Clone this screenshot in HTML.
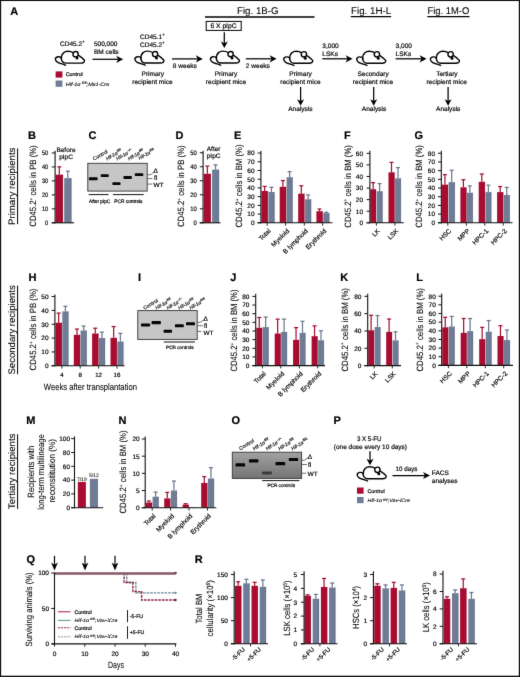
<!DOCTYPE html>
<html lang="en"><head><meta charset="utf-8"><title>Figure 1</title>
<style>html,body{margin:0;padding:0;background:#fff}svg{display:block}</style></head>
<body>
<svg width="520" height="677" viewBox="0 0 520 677" font-family='"Liberation Sans", Arial, Helvetica, sans-serif' text-rendering="geometricPrecision">
<defs><filter id="soft" x="0" y="0" width="520" height="677" filterUnits="userSpaceOnUse" color-interpolation-filters="sRGB"><feConvolveMatrix order="3" kernelMatrix="0.0064 0.0672 0.0064 0.0672 0.7056 0.0672 0.0064 0.0672 0.0064" edgeMode="duplicate" preserveAlpha="false"/></filter></defs>
<g filter="url(#soft)">
<rect x="0" y="0" width="520" height="677" fill="#fff"/>
<text transform="translate(10.30,15.40)" font-size="11" font-weight="bold" stroke="#000" stroke-width="0.18">A</text>
<text transform="translate(72.30,45.80)" font-size="6.55" text-anchor="middle" stroke="#000" stroke-width="0.18">CD45.2<tspan font-size="4.2" dy="-2.5">+</tspan></text>
<g transform="translate(55.00,50.60) scale(1)" fill="none" stroke="#000" stroke-width="1.4" stroke-linecap="round" stroke-linejoin="round">
<path d="M6.4 8.4 C6.3 5.5 7.2 3.3 8.6 2.1 C10 0.9 11.3 0.6 12.6 0.6 C14.5 0.6 16.8 1 18.5 2.2"/>
<path d="M23.2 4.6 C25.5 6 27.8 7.8 29.4 9.7 C29.6 10.8 29.2 11.6 28.4 12 C27.7 12.4 26.8 12.5 26 12.5 L10.6 12.5 C8.8 12.5 7.9 11.8 7.3 10.8 C6.8 10 6.5 9.2 6.4 8.4"/>
<path d="M6.4 7.3 C5.3 6.4 4 6 2.9 6.2 C1.3 6.5 0.3 7.5 0.4 8.8 C0.5 10 1.3 10.9 2.4 11.6 C3.5 12.3 4.9 12.7 6.2 13.1 C7.8 13.6 9.3 14.1 10.6 14.7"/>
<circle cx="20.6" cy="3.6" r="2.65" fill="#fff"/>
<circle cx="22.0" cy="7.5" r="1.5" fill="#000" stroke="none"/>
</g>
<text transform="translate(93.90,45.80) scale(0.9970,1)" font-size="6.55" stroke="#000" stroke-width="0.18">500,000</text>
<text transform="translate(93.90,53.80)" font-size="6.55" stroke="#000" stroke-width="0.18">BM cells</text>
<line x1="92.50" y1="59.30" x2="119.00" y2="59.30" stroke="#000" stroke-width="1.25"/>
<path d="M123.20 59.30 L116.20 55.70 L118.16 59.30 L116.20 62.90 Z" fill="#000"/>
<rect x="55.60" y="71.40" width="6.80" height="6.20" fill="#A90C30"/>
<rect x="55.60" y="80.50" width="6.80" height="6.30" fill="#6F7C95"/>
<text transform="translate(65.70,76.40)" font-size="5.3" stroke="#000" stroke-width="0.2">Control</text>
<text transform="translate(65.70,86.00) scale(1.1002,1)" font-size="5" font-style="italic" stroke="#000" stroke-width="0.1">Hif-1α<tspan font-size="3.4" dy="-1.9" dx="0.3"> fl/fl</tspan><tspan dy="1.9">;Mx1-Cre</tspan></text>
<text transform="translate(140.00,38.60)" font-size="6.55" stroke="#000" stroke-width="0.18">CD45.1<tspan font-size="4.2" dy="-2.5">+</tspan></text>
<text transform="translate(140.00,46.60)" font-size="6.55" stroke="#000" stroke-width="0.18">CD45.2<tspan font-size="4.2" dy="-2.5">+</tspan></text>
<g transform="translate(134.50,50.50) scale(1)" fill="none" stroke="#000" stroke-width="1.4" stroke-linecap="round" stroke-linejoin="round">
<path d="M6.4 8.4 C6.3 5.5 7.2 3.3 8.6 2.1 C10 0.9 11.3 0.6 12.6 0.6 C14.5 0.6 16.8 1 18.5 2.2"/>
<path d="M23.2 4.6 C25.5 6 27.8 7.8 29.4 9.7 C29.6 10.8 29.2 11.6 28.4 12 C27.7 12.4 26.8 12.5 26 12.5 L10.6 12.5 C8.8 12.5 7.9 11.8 7.3 10.8 C6.8 10 6.5 9.2 6.4 8.4"/>
<path d="M6.4 7.3 C5.3 6.4 4 6 2.9 6.2 C1.3 6.5 0.3 7.5 0.4 8.8 C0.5 10 1.3 10.9 2.4 11.6 C3.5 12.3 4.9 12.7 6.2 13.1 C7.8 13.6 9.3 14.1 10.6 14.7"/>
<circle cx="20.6" cy="3.6" r="2.65" fill="#fff"/>
<circle cx="22.0" cy="7.5" r="1.5" fill="#000" stroke="none"/>
</g>
<text transform="translate(152.80,76.20)" font-size="6.55" text-anchor="middle" stroke="#000" stroke-width="0.18">Primary</text>
<text transform="translate(152.40,83.80)" font-size="6.55" text-anchor="middle" stroke="#000" stroke-width="0.18">recipient mice</text>
<line x1="172.00" y1="58.90" x2="198.60" y2="58.90" stroke="#000" stroke-width="1.25"/>
<path d="M202.80 58.90 L195.80 55.30 L197.76 58.90 L195.80 62.50 Z" fill="#000"/>
<text transform="translate(172.80,68.00)" font-size="6.55" stroke="#000" stroke-width="0.18">8 weeks</text>
<text transform="translate(237.00,14.30) scale(0.9923,1)" font-size="9.8" stroke="#000" stroke-width="0.08">Fig. 1B-G</text>
<line x1="205.00" y1="17.00" x2="314.50" y2="17.00" stroke="#000" stroke-width="1.4"/>
<rect x="206.20" y="21.40" width="35.00" height="9.00" fill="#fff" stroke="#000" stroke-width="1"/>
<text transform="translate(223.50,28.10)" font-size="6.7" text-anchor="middle" stroke="#000" stroke-width="0.18">6 X pIpC</text>
<line x1="224.30" y1="32.30" x2="224.30" y2="44.04" stroke="#000" stroke-width="1.25"/>
<path d="M224.30 48.00 L220.80 41.40 L224.30 43.25 L227.80 41.40 Z" fill="#000"/>
<g transform="translate(210.00,50.50) scale(1)" fill="none" stroke="#000" stroke-width="1.4" stroke-linecap="round" stroke-linejoin="round">
<path d="M6.4 8.4 C6.3 5.5 7.2 3.3 8.6 2.1 C10 0.9 11.3 0.6 12.6 0.6 C14.5 0.6 16.8 1 18.5 2.2"/>
<path d="M23.2 4.6 C25.5 6 27.8 7.8 29.4 9.7 C29.6 10.8 29.2 11.6 28.4 12 C27.7 12.4 26.8 12.5 26 12.5 L10.6 12.5 C8.8 12.5 7.9 11.8 7.3 10.8 C6.8 10 6.5 9.2 6.4 8.4"/>
<path d="M6.4 7.3 C5.3 6.4 4 6 2.9 6.2 C1.3 6.5 0.3 7.5 0.4 8.8 C0.5 10 1.3 10.9 2.4 11.6 C3.5 12.3 4.9 12.7 6.2 13.1 C7.8 13.6 9.3 14.1 10.6 14.7"/>
<circle cx="20.6" cy="3.6" r="2.65" fill="#fff"/>
<circle cx="22.0" cy="7.5" r="1.5" fill="#000" stroke="none"/>
</g>
<text transform="translate(226.00,76.20)" font-size="6.55" text-anchor="middle" stroke="#000" stroke-width="0.18">Primary</text>
<text transform="translate(226.00,83.80)" font-size="6.55" text-anchor="middle" stroke="#000" stroke-width="0.18">recipient mice</text>
<line x1="245.80" y1="58.80" x2="272.40" y2="58.80" stroke="#000" stroke-width="1.25"/>
<path d="M276.60 58.80 L269.60 55.20 L271.56 58.80 L269.60 62.40 Z" fill="#000"/>
<text transform="translate(245.80,68.00)" font-size="6.55" stroke="#000" stroke-width="0.18">2 weeks</text>
<g transform="translate(283.30,50.70) scale(1)" fill="none" stroke="#000" stroke-width="1.4" stroke-linecap="round" stroke-linejoin="round">
<path d="M6.4 8.4 C6.3 5.5 7.2 3.3 8.6 2.1 C10 0.9 11.3 0.6 12.6 0.6 C14.5 0.6 16.8 1 18.5 2.2"/>
<path d="M23.2 4.6 C25.5 6 27.8 7.8 29.4 9.7 C29.6 10.8 29.2 11.6 28.4 12 C27.7 12.4 26.8 12.5 26 12.5 L10.6 12.5 C8.8 12.5 7.9 11.8 7.3 10.8 C6.8 10 6.5 9.2 6.4 8.4"/>
<path d="M6.4 7.3 C5.3 6.4 4 6 2.9 6.2 C1.3 6.5 0.3 7.5 0.4 8.8 C0.5 10 1.3 10.9 2.4 11.6 C3.5 12.3 4.9 12.7 6.2 13.1 C7.8 13.6 9.3 14.1 10.6 14.7"/>
<circle cx="20.6" cy="3.6" r="2.65" fill="#fff"/>
<circle cx="22.0" cy="7.5" r="1.5" fill="#000" stroke="none"/>
</g>
<text transform="translate(300.60,76.20)" font-size="6.55" text-anchor="middle" stroke="#000" stroke-width="0.18">Primary</text>
<text transform="translate(300.40,83.80)" font-size="6.55" text-anchor="middle" stroke="#000" stroke-width="0.18">recipient mice</text>
<line x1="300.60" y1="87.00" x2="300.60" y2="101.84" stroke="#000" stroke-width="1.25"/>
<path d="M300.60 105.80 L297.10 99.20 L300.60 101.05 L304.10 99.20 Z" fill="#000"/>
<text transform="translate(300.40,111.40)" font-size="6.55" text-anchor="middle" stroke="#000" stroke-width="0.18">Analysis</text>
<text transform="translate(351.00,14.00) scale(0.9976,1)" font-size="9.8" stroke="#000" stroke-width="0.08">Fig. 1H-L</text>
<line x1="350.80" y1="16.60" x2="391.20" y2="16.60" stroke="#000" stroke-width="1.1"/>
<text transform="translate(322.30,47.60)" font-size="6.55" stroke="#000" stroke-width="0.18">3,000</text>
<text transform="translate(322.30,55.90)" font-size="6.55" stroke="#000" stroke-width="0.18">LSKs</text>
<line x1="322.30" y1="58.80" x2="348.40" y2="58.80" stroke="#000" stroke-width="1.25"/>
<path d="M352.60 58.80 L345.60 55.20 L347.56 58.80 L345.60 62.40 Z" fill="#000"/>
<g transform="translate(356.30,50.70) scale(1)" fill="none" stroke="#000" stroke-width="1.4" stroke-linecap="round" stroke-linejoin="round">
<path d="M6.4 8.4 C6.3 5.5 7.2 3.3 8.6 2.1 C10 0.9 11.3 0.6 12.6 0.6 C14.5 0.6 16.8 1 18.5 2.2"/>
<path d="M23.2 4.6 C25.5 6 27.8 7.8 29.4 9.7 C29.6 10.8 29.2 11.6 28.4 12 C27.7 12.4 26.8 12.5 26 12.5 L10.6 12.5 C8.8 12.5 7.9 11.8 7.3 10.8 C6.8 10 6.5 9.2 6.4 8.4"/>
<path d="M6.4 7.3 C5.3 6.4 4 6 2.9 6.2 C1.3 6.5 0.3 7.5 0.4 8.8 C0.5 10 1.3 10.9 2.4 11.6 C3.5 12.3 4.9 12.7 6.2 13.1 C7.8 13.6 9.3 14.1 10.6 14.7"/>
<circle cx="20.6" cy="3.6" r="2.65" fill="#fff"/>
<circle cx="22.0" cy="7.5" r="1.5" fill="#000" stroke="none"/>
</g>
<text transform="translate(373.10,76.20)" font-size="6.55" text-anchor="middle" stroke="#000" stroke-width="0.18">Secondary</text>
<text transform="translate(373.00,83.80)" font-size="6.55" text-anchor="middle" stroke="#000" stroke-width="0.18">recipient mice</text>
<line x1="373.70" y1="87.00" x2="373.70" y2="101.84" stroke="#000" stroke-width="1.25"/>
<path d="M373.70 105.80 L370.20 99.20 L373.70 101.05 L377.20 99.20 Z" fill="#000"/>
<text transform="translate(374.00,111.40)" font-size="6.55" text-anchor="middle" stroke="#000" stroke-width="0.18">Analysis</text>
<text transform="translate(427.50,14.00) scale(0.9599,1)" font-size="9.8" stroke="#000" stroke-width="0.08">Fig. 1M-O</text>
<line x1="427.30" y1="16.60" x2="469.50" y2="16.60" stroke="#000" stroke-width="1.1"/>
<text transform="translate(395.60,47.60)" font-size="6.55" stroke="#000" stroke-width="0.18">3,000</text>
<text transform="translate(395.60,55.90)" font-size="6.55" stroke="#000" stroke-width="0.18">LSKs</text>
<line x1="395.60" y1="58.80" x2="422.40" y2="58.80" stroke="#000" stroke-width="1.25"/>
<path d="M426.60 58.80 L419.60 55.20 L421.56 58.80 L419.60 62.40 Z" fill="#000"/>
<g transform="translate(430.00,50.70) scale(1)" fill="none" stroke="#000" stroke-width="1.4" stroke-linecap="round" stroke-linejoin="round">
<path d="M6.4 8.4 C6.3 5.5 7.2 3.3 8.6 2.1 C10 0.9 11.3 0.6 12.6 0.6 C14.5 0.6 16.8 1 18.5 2.2"/>
<path d="M23.2 4.6 C25.5 6 27.8 7.8 29.4 9.7 C29.6 10.8 29.2 11.6 28.4 12 C27.7 12.4 26.8 12.5 26 12.5 L10.6 12.5 C8.8 12.5 7.9 11.8 7.3 10.8 C6.8 10 6.5 9.2 6.4 8.4"/>
<path d="M6.4 7.3 C5.3 6.4 4 6 2.9 6.2 C1.3 6.5 0.3 7.5 0.4 8.8 C0.5 10 1.3 10.9 2.4 11.6 C3.5 12.3 4.9 12.7 6.2 13.1 C7.8 13.6 9.3 14.1 10.6 14.7"/>
<circle cx="20.6" cy="3.6" r="2.65" fill="#fff"/>
<circle cx="22.0" cy="7.5" r="1.5" fill="#000" stroke="none"/>
</g>
<text transform="translate(446.90,76.20)" font-size="6.55" text-anchor="middle" stroke="#000" stroke-width="0.18">Tertiary</text>
<text transform="translate(446.60,83.80)" font-size="6.55" text-anchor="middle" stroke="#000" stroke-width="0.18">recipient mice</text>
<line x1="448.10" y1="87.00" x2="448.10" y2="101.84" stroke="#000" stroke-width="1.25"/>
<path d="M448.10 105.80 L444.60 99.20 L448.10 101.05 L451.60 99.20 Z" fill="#000"/>
<text transform="translate(448.20,111.40)" font-size="6.55" text-anchor="middle" stroke="#000" stroke-width="0.18">Analysis</text>
<text transform="translate(14.90,186.30) rotate(-90) scale(1.0193,1)" font-size="9.5" text-anchor="middle" stroke="#000" stroke-width="0.08">Primary recipients</text>
<line x1="17.60" y1="148.40" x2="17.60" y2="224.20" stroke="#000" stroke-width="1"/>
<text transform="translate(14.90,329.90) rotate(-90) scale(1.0066,1)" font-size="9.5" text-anchor="middle" stroke="#000" stroke-width="0.08">Secondary recipients</text>
<line x1="17.60" y1="285.60" x2="17.60" y2="374.20" stroke="#000" stroke-width="1"/>
<text transform="translate(14.90,471.40) rotate(-90) scale(1.0154,1)" font-size="9.5" text-anchor="middle" stroke="#000" stroke-width="0.08">Tertiary recipients</text>
<line x1="17.60" y1="434.20" x2="17.60" y2="508.90" stroke="#000" stroke-width="1"/>
<text transform="translate(28.00,138.80)" font-size="11" font-weight="bold" stroke="#000" stroke-width="0.18">B</text>
<text transform="translate(36.20,186.00) rotate(-90) scale(0.8487,1)" font-size="9.1" text-anchor="middle" stroke="#000" stroke-width="0.08">CD45.2<tspan font-size="5.642" dy="-3.276">+</tspan><tspan dy="3.276"> cells in PB (%)</tspan></text>
<line x1="59.30" y1="174.60" x2="59.30" y2="166.86" stroke="#A00D2F" stroke-width="1.2"/>
<line x1="57.30" y1="166.86" x2="61.30" y2="166.86" stroke="#A00D2F" stroke-width="1.25"/>
<rect x="55.70" y="174.60" width="7.20" height="48.20" fill="#A90C30"/>
<line x1="62.65" y1="174.60" x2="62.65" y2="222.80" stroke="#8A0A28" stroke-width="0.5"/>
<line x1="67.80" y1="178.10" x2="67.80" y2="171.19" stroke="#68758E" stroke-width="1.2"/>
<line x1="65.80" y1="171.19" x2="69.80" y2="171.19" stroke="#68758E" stroke-width="1.25"/>
<rect x="64.20" y="178.10" width="7.20" height="44.70" fill="#6F7C95"/>
<line x1="71.15" y1="178.10" x2="71.15" y2="222.80" stroke="#5A6480" stroke-width="0.5"/>
<line x1="55.10" y1="150.80" x2="55.10" y2="223.35" stroke="#111" stroke-width="1.1"/>
<line x1="51.70" y1="222.80" x2="74.00" y2="222.80" stroke="#111" stroke-width="1.1"/>
<line x1="51.80" y1="222.80" x2="55.10" y2="222.80" stroke="#111" stroke-width="1"/>
<text transform="translate(48.20,225.14) scale(0.8500,1)" font-size="6.5" text-anchor="end" stroke="#000" stroke-width="0.18">0</text>
<line x1="51.80" y1="208.83" x2="55.10" y2="208.83" stroke="#111" stroke-width="1"/>
<text transform="translate(48.20,211.17) scale(0.8500,1)" font-size="6.5" text-anchor="end" stroke="#000" stroke-width="0.18">10</text>
<line x1="51.80" y1="194.86" x2="55.10" y2="194.86" stroke="#111" stroke-width="1"/>
<text transform="translate(48.20,197.20) scale(0.8500,1)" font-size="6.5" text-anchor="end" stroke="#000" stroke-width="0.18">20</text>
<line x1="51.80" y1="180.89" x2="55.10" y2="180.89" stroke="#111" stroke-width="1"/>
<text transform="translate(48.20,183.23) scale(0.8500,1)" font-size="6.5" text-anchor="end" stroke="#000" stroke-width="0.18">30</text>
<line x1="51.80" y1="166.92" x2="55.10" y2="166.92" stroke="#111" stroke-width="1"/>
<text transform="translate(48.20,169.26) scale(0.8500,1)" font-size="6.5" text-anchor="end" stroke="#000" stroke-width="0.18">40</text>
<line x1="51.80" y1="152.95" x2="55.10" y2="152.95" stroke="#111" stroke-width="1"/>
<text transform="translate(48.20,155.29) scale(0.8500,1)" font-size="6.5" text-anchor="end" stroke="#000" stroke-width="0.18">50</text>
<text transform="translate(66.00,151.60)" font-size="6.5" text-anchor="middle" stroke="#000" stroke-width="0.18">Before</text>
<text transform="translate(66.00,159.00)" font-size="6.5" text-anchor="middle" stroke="#000" stroke-width="0.18">pIpC</text>
<text transform="translate(88.50,138.80)" font-size="11" font-weight="bold" stroke="#000" stroke-width="0.18">C</text>
<rect x="87.80" y="163.30" width="59.40" height="27.80" fill="#C6C6C6" stroke="#333" stroke-width="0.9"/>
<rect x="88.90" y="177.20" width="8.70" height="3.10" rx="0.9" fill="#050505"/>
<rect x="100.70" y="174.20" width="8.10" height="2.80" rx="0.9" fill="#050505"/>
<rect x="112.40" y="182.30" width="8.10" height="2.80" rx="0.9" fill="#050505"/>
<rect x="123.40" y="175.90" width="8.50" height="3.00" rx="0.9" fill="#050505"/>
<rect x="134.80" y="173.20" width="8.50" height="2.90" rx="0.9" fill="#050505"/>
<text transform="translate(94.10,160.60) rotate(-30)" font-size="5" fill="#222" stroke="#222" stroke-width="0.2">Control</text>
<text transform="translate(106.90,160.60) rotate(-30)" font-size="4.8" font-style="italic" fill="#222" stroke="#222" stroke-width="0.2">Hif-1α<tspan font-size="3.264" dy="-1.9" dx="0.5">fl/fl</tspan></text>
<text transform="translate(117.30,160.60) rotate(-30)" font-size="4.8" font-style="italic" fill="#222" stroke="#222" stroke-width="0.2">Hif-1α<tspan font-size="3.264" dy="-1.9" dx="0.5">−/−</tspan></text>
<text transform="translate(129.00,160.60) rotate(-30)" font-size="4.8" font-style="italic" fill="#222" stroke="#222" stroke-width="0.2">Hif-1α<tspan font-size="3.264" dy="-1.9" dx="0.5">fl/fl</tspan></text>
<text transform="translate(139.50,160.00) rotate(-30)" font-size="4.8" font-style="italic" fill="#222" stroke="#222" stroke-width="0.2">Hif-1α<tspan font-size="3.264" dy="-1.9" dx="0.5">fl/Δ</tspan></text>
<path d="M147.5 174.7 L151 174.7 L154.1 171.4" fill="none" stroke="#333" stroke-width="0.7"/>
<line x1="147.50" y1="178.60" x2="152.40" y2="178.60" stroke="#333" stroke-width="0.7"/>
<line x1="147.50" y1="184.10" x2="152.40" y2="184.10" stroke="#333" stroke-width="0.7"/>
<text transform="translate(153.50,172.50)" font-size="6.4" stroke="#000" stroke-width="0.18">Δ</text>
<text transform="translate(154.10,180.40)" font-size="6.4" stroke="#000" stroke-width="0.18">fl</text>
<text transform="translate(153.60,186.80) scale(1.0720,1)" font-size="6" stroke="#000" stroke-width="0.18">WT</text>
<line x1="88.70" y1="194.60" x2="108.50" y2="194.60" stroke="#111" stroke-width="1"/>
<line x1="112.90" y1="194.60" x2="143.70" y2="194.60" stroke="#111" stroke-width="1"/>
<text transform="translate(89.10,203.00) scale(0.9371,1)" font-size="5" stroke="#000" stroke-width="0.2">After pIpC</text>
<text transform="translate(114.30,203.00) scale(0.9575,1)" font-size="5" stroke="#000" stroke-width="0.2">PCR controls</text>
<text transform="translate(175.60,138.80)" font-size="11" font-weight="bold" stroke="#000" stroke-width="0.18">D</text>
<text transform="translate(184.10,186.20) rotate(-90) scale(0.8518,1)" font-size="9.1" text-anchor="middle" stroke="#000" stroke-width="0.08">CD45.2<tspan font-size="5.642" dy="-3.276">+</tspan><tspan dy="3.276"> cells in PB (%)</tspan></text>
<line x1="207.35" y1="173.77" x2="207.35" y2="166.14" stroke="#A00D2F" stroke-width="1.2"/>
<line x1="205.35" y1="166.14" x2="209.35" y2="166.14" stroke="#A00D2F" stroke-width="1.25"/>
<rect x="203.90" y="173.77" width="6.90" height="49.03" fill="#A90C30"/>
<line x1="210.55" y1="173.77" x2="210.55" y2="222.80" stroke="#8A0A28" stroke-width="0.5"/>
<line x1="215.55" y1="169.56" x2="215.55" y2="164.88" stroke="#68758E" stroke-width="1.2"/>
<line x1="213.55" y1="164.88" x2="217.55" y2="164.88" stroke="#68758E" stroke-width="1.25"/>
<rect x="212.10" y="169.56" width="6.90" height="53.24" fill="#6F7C95"/>
<line x1="218.75" y1="169.56" x2="218.75" y2="222.80" stroke="#5A6480" stroke-width="0.5"/>
<line x1="203.10" y1="150.80" x2="203.10" y2="223.35" stroke="#111" stroke-width="1.1"/>
<line x1="199.70" y1="222.80" x2="220.50" y2="222.80" stroke="#111" stroke-width="1.1"/>
<line x1="199.80" y1="222.80" x2="203.10" y2="222.80" stroke="#111" stroke-width="1"/>
<text transform="translate(196.70,225.14) scale(0.9000,1)" font-size="6.5" text-anchor="end" stroke="#000" stroke-width="0.18">0</text>
<line x1="199.80" y1="208.79" x2="203.10" y2="208.79" stroke="#111" stroke-width="1"/>
<text transform="translate(196.70,211.13) scale(0.9000,1)" font-size="6.5" text-anchor="end" stroke="#000" stroke-width="0.18">10</text>
<line x1="199.80" y1="194.78" x2="203.10" y2="194.78" stroke="#111" stroke-width="1"/>
<text transform="translate(196.70,197.12) scale(0.9000,1)" font-size="6.5" text-anchor="end" stroke="#000" stroke-width="0.18">20</text>
<line x1="199.80" y1="180.77" x2="203.10" y2="180.77" stroke="#111" stroke-width="1"/>
<text transform="translate(196.70,183.11) scale(0.9000,1)" font-size="6.5" text-anchor="end" stroke="#000" stroke-width="0.18">30</text>
<line x1="199.80" y1="166.76" x2="203.10" y2="166.76" stroke="#111" stroke-width="1"/>
<text transform="translate(196.70,169.10) scale(0.9000,1)" font-size="6.5" text-anchor="end" stroke="#000" stroke-width="0.18">40</text>
<line x1="199.80" y1="152.75" x2="203.10" y2="152.75" stroke="#111" stroke-width="1"/>
<text transform="translate(196.70,155.09) scale(0.9000,1)" font-size="6.5" text-anchor="end" stroke="#000" stroke-width="0.18">50</text>
<text transform="translate(213.60,150.80)" font-size="6.5" text-anchor="middle" stroke="#000" stroke-width="0.18">After</text>
<text transform="translate(213.60,158.30)" font-size="6.5" text-anchor="middle" stroke="#000" stroke-width="0.18">pIpC</text>
<text transform="translate(234.00,138.80)" font-size="11" font-weight="bold" stroke="#000" stroke-width="0.18">E</text>
<text transform="translate(242.30,186.00) rotate(-90) scale(0.8529,1)" font-size="9.1" text-anchor="middle" stroke="#000" stroke-width="0.08">CD45.2<tspan font-size="5.642" dy="-3.276">+</tspan><tspan dy="3.276"> cells in BM (%)</tspan></text>
<line x1="264.65" y1="190.97" x2="264.65" y2="186.41" stroke="#A00D2F" stroke-width="1.2"/>
<line x1="262.65" y1="186.41" x2="266.65" y2="186.41" stroke="#A00D2F" stroke-width="1.25"/>
<rect x="261.50" y="190.97" width="6.30" height="31.83" fill="#A90C30"/>
<line x1="267.55" y1="190.97" x2="267.55" y2="222.80" stroke="#8A0A28" stroke-width="0.5"/>
<line x1="271.45" y1="192.02" x2="271.45" y2="187.29" stroke="#68758E" stroke-width="1.2"/>
<line x1="269.45" y1="187.29" x2="273.45" y2="187.29" stroke="#68758E" stroke-width="1.25"/>
<rect x="268.40" y="192.02" width="6.10" height="30.78" fill="#6F7C95"/>
<line x1="274.25" y1="192.02" x2="274.25" y2="222.80" stroke="#5A6480" stroke-width="0.5"/>
<line x1="282.90" y1="186.79" x2="282.90" y2="180.57" stroke="#A00D2F" stroke-width="1.2"/>
<line x1="280.90" y1="180.57" x2="284.90" y2="180.57" stroke="#A00D2F" stroke-width="1.25"/>
<rect x="279.70" y="186.79" width="6.40" height="36.01" fill="#A90C30"/>
<line x1="285.85" y1="186.79" x2="285.85" y2="222.80" stroke="#8A0A28" stroke-width="0.5"/>
<line x1="289.60" y1="177.19" x2="289.60" y2="171.59" stroke="#68758E" stroke-width="1.2"/>
<line x1="287.60" y1="171.59" x2="291.60" y2="171.59" stroke="#68758E" stroke-width="1.25"/>
<rect x="286.60" y="177.19" width="6.00" height="45.61" fill="#6F7C95"/>
<line x1="292.35" y1="177.19" x2="292.35" y2="222.80" stroke="#5A6480" stroke-width="0.5"/>
<line x1="301.30" y1="193.68" x2="301.30" y2="185.80" stroke="#A00D2F" stroke-width="1.2"/>
<line x1="299.30" y1="185.80" x2="303.30" y2="185.80" stroke="#A00D2F" stroke-width="1.25"/>
<rect x="298.20" y="193.68" width="6.20" height="29.12" fill="#A90C30"/>
<line x1="304.15" y1="193.68" x2="304.15" y2="222.80" stroke="#8A0A28" stroke-width="0.5"/>
<line x1="308.10" y1="199.26" x2="308.10" y2="194.96" stroke="#68758E" stroke-width="1.2"/>
<line x1="306.10" y1="194.96" x2="310.10" y2="194.96" stroke="#68758E" stroke-width="1.25"/>
<rect x="305.10" y="199.26" width="6.00" height="23.54" fill="#6F7C95"/>
<line x1="310.85" y1="199.26" x2="310.85" y2="222.80" stroke="#5A6480" stroke-width="0.5"/>
<line x1="319.50" y1="211.20" x2="319.50" y2="209.00" stroke="#A00D2F" stroke-width="1.2"/>
<line x1="317.50" y1="209.00" x2="321.50" y2="209.00" stroke="#A00D2F" stroke-width="1.25"/>
<rect x="316.40" y="211.20" width="6.20" height="11.60" fill="#A90C30"/>
<line x1="322.35" y1="211.20" x2="322.35" y2="222.80" stroke="#8A0A28" stroke-width="0.5"/>
<line x1="326.30" y1="213.12" x2="326.30" y2="212.31" stroke="#68758E" stroke-width="1.2"/>
<line x1="324.30" y1="212.31" x2="328.30" y2="212.31" stroke="#68758E" stroke-width="1.25"/>
<rect x="323.30" y="213.12" width="6.00" height="9.68" fill="#6F7C95"/>
<line x1="329.05" y1="213.12" x2="329.05" y2="222.80" stroke="#5A6480" stroke-width="0.5"/>
<line x1="260.90" y1="151.00" x2="260.90" y2="223.35" stroke="#111" stroke-width="1.1"/>
<line x1="257.50" y1="222.80" x2="332.50" y2="222.80" stroke="#111" stroke-width="1.1"/>
<line x1="257.60" y1="222.80" x2="260.90" y2="222.80" stroke="#111" stroke-width="1"/>
<text transform="translate(254.60,225.14)" font-size="6.5" text-anchor="end" stroke="#000" stroke-width="0.18">0</text>
<line x1="257.60" y1="214.08" x2="260.90" y2="214.08" stroke="#111" stroke-width="1"/>
<text transform="translate(254.60,216.42)" font-size="6.5" text-anchor="end" stroke="#000" stroke-width="0.18">10</text>
<line x1="257.60" y1="205.36" x2="260.90" y2="205.36" stroke="#111" stroke-width="1"/>
<text transform="translate(254.60,207.70)" font-size="6.5" text-anchor="end" stroke="#000" stroke-width="0.18">20</text>
<line x1="257.60" y1="196.64" x2="260.90" y2="196.64" stroke="#111" stroke-width="1"/>
<text transform="translate(254.60,198.98)" font-size="6.5" text-anchor="end" stroke="#000" stroke-width="0.18">30</text>
<line x1="257.60" y1="187.92" x2="260.90" y2="187.92" stroke="#111" stroke-width="1"/>
<text transform="translate(254.60,190.26)" font-size="6.5" text-anchor="end" stroke="#000" stroke-width="0.18">40</text>
<line x1="257.60" y1="179.20" x2="260.90" y2="179.20" stroke="#111" stroke-width="1"/>
<text transform="translate(254.60,181.54)" font-size="6.5" text-anchor="end" stroke="#000" stroke-width="0.18">50</text>
<line x1="257.60" y1="170.48" x2="260.90" y2="170.48" stroke="#111" stroke-width="1"/>
<text transform="translate(254.60,172.82)" font-size="6.5" text-anchor="end" stroke="#000" stroke-width="0.18">60</text>
<line x1="257.60" y1="161.76" x2="260.90" y2="161.76" stroke="#111" stroke-width="1"/>
<text transform="translate(254.60,164.10)" font-size="6.5" text-anchor="end" stroke="#000" stroke-width="0.18">70</text>
<line x1="257.60" y1="153.04" x2="260.90" y2="153.04" stroke="#111" stroke-width="1"/>
<text transform="translate(254.60,155.38)" font-size="6.5" text-anchor="end" stroke="#000" stroke-width="0.18">80</text>
<line x1="267.20" y1="222.80" x2="267.20" y2="225.60" stroke="#111" stroke-width="0.9"/>
<line x1="285.60" y1="222.80" x2="285.60" y2="225.60" stroke="#111" stroke-width="0.9"/>
<line x1="304.30" y1="222.80" x2="304.30" y2="225.60" stroke="#111" stroke-width="0.9"/>
<line x1="322.60" y1="222.80" x2="322.60" y2="225.60" stroke="#111" stroke-width="0.9"/>
<text transform="translate(271.20,231.40) rotate(-45)" font-size="6.5" text-anchor="end" stroke="#000" stroke-width="0.18">Total</text>
<text transform="translate(289.70,231.40) rotate(-45)" font-size="6.5" text-anchor="end" stroke="#000" stroke-width="0.18">Myeloid</text>
<text transform="translate(308.30,231.40) rotate(-45)" font-size="6.5" text-anchor="end" stroke="#000" stroke-width="0.18">B lymphoid</text>
<text transform="translate(326.70,231.40) rotate(-45)" font-size="6.5" text-anchor="end" stroke="#000" stroke-width="0.18">Erythroid</text>
<text transform="translate(344.00,138.80)" font-size="11" font-weight="bold" stroke="#000" stroke-width="0.18">F</text>
<text transform="translate(350.60,186.40) rotate(-90) scale(0.8478,1)" font-size="9.1" text-anchor="middle" stroke="#000" stroke-width="0.08">CD45.2<tspan font-size="5.642" dy="-3.276">+</tspan><tspan dy="3.276"> cells in BM (%)</tspan></text>
<line x1="373.15" y1="189.22" x2="373.15" y2="182.65" stroke="#A00D2F" stroke-width="1.2"/>
<line x1="371.15" y1="182.65" x2="375.15" y2="182.65" stroke="#A00D2F" stroke-width="1.25"/>
<rect x="370.30" y="189.22" width="5.70" height="33.58" fill="#A90C30"/>
<line x1="375.75" y1="189.22" x2="375.75" y2="222.80" stroke="#8A0A28" stroke-width="0.5"/>
<line x1="379.60" y1="191.19" x2="379.60" y2="183.58" stroke="#68758E" stroke-width="1.2"/>
<line x1="377.60" y1="183.58" x2="381.60" y2="183.58" stroke="#68758E" stroke-width="1.25"/>
<rect x="376.70" y="191.19" width="5.80" height="31.61" fill="#6F7C95"/>
<line x1="382.25" y1="191.19" x2="382.25" y2="222.80" stroke="#5A6480" stroke-width="0.5"/>
<line x1="391.50" y1="172.31" x2="391.50" y2="162.39" stroke="#A00D2F" stroke-width="1.2"/>
<line x1="389.50" y1="162.39" x2="393.50" y2="162.39" stroke="#A00D2F" stroke-width="1.25"/>
<rect x="388.50" y="172.31" width="6.00" height="50.49" fill="#A90C30"/>
<line x1="394.25" y1="172.31" x2="394.25" y2="222.80" stroke="#8A0A28" stroke-width="0.5"/>
<line x1="398.00" y1="178.33" x2="398.00" y2="167.60" stroke="#68758E" stroke-width="1.2"/>
<line x1="396.00" y1="167.60" x2="400.00" y2="167.60" stroke="#68758E" stroke-width="1.25"/>
<rect x="395.10" y="178.33" width="5.80" height="44.47" fill="#6F7C95"/>
<line x1="400.65" y1="178.33" x2="400.65" y2="222.80" stroke="#5A6480" stroke-width="0.5"/>
<line x1="369.90" y1="150.80" x2="369.90" y2="223.35" stroke="#111" stroke-width="1.1"/>
<line x1="366.50" y1="222.80" x2="403.70" y2="222.80" stroke="#111" stroke-width="1.1"/>
<line x1="366.60" y1="222.80" x2="369.90" y2="222.80" stroke="#111" stroke-width="1"/>
<text transform="translate(363.00,225.14)" font-size="6.5" text-anchor="end" stroke="#000" stroke-width="0.18">0</text>
<line x1="366.60" y1="211.22" x2="369.90" y2="211.22" stroke="#111" stroke-width="1"/>
<text transform="translate(363.00,213.56)" font-size="6.5" text-anchor="end" stroke="#000" stroke-width="0.18">10</text>
<line x1="366.60" y1="199.64" x2="369.90" y2="199.64" stroke="#111" stroke-width="1"/>
<text transform="translate(363.00,201.98)" font-size="6.5" text-anchor="end" stroke="#000" stroke-width="0.18">20</text>
<line x1="366.60" y1="188.06" x2="369.90" y2="188.06" stroke="#111" stroke-width="1"/>
<text transform="translate(363.00,190.40)" font-size="6.5" text-anchor="end" stroke="#000" stroke-width="0.18">30</text>
<line x1="366.60" y1="176.48" x2="369.90" y2="176.48" stroke="#111" stroke-width="1"/>
<text transform="translate(363.00,178.82)" font-size="6.5" text-anchor="end" stroke="#000" stroke-width="0.18">40</text>
<line x1="366.60" y1="164.90" x2="369.90" y2="164.90" stroke="#111" stroke-width="1"/>
<text transform="translate(363.00,167.24)" font-size="6.5" text-anchor="end" stroke="#000" stroke-width="0.18">50</text>
<line x1="366.60" y1="153.32" x2="369.90" y2="153.32" stroke="#111" stroke-width="1"/>
<text transform="translate(363.00,155.66)" font-size="6.5" text-anchor="end" stroke="#000" stroke-width="0.18">60</text>
<line x1="376.40" y1="222.80" x2="376.40" y2="225.60" stroke="#111" stroke-width="0.9"/>
<line x1="394.90" y1="222.80" x2="394.90" y2="225.60" stroke="#111" stroke-width="0.9"/>
<text transform="translate(380.30,231.40) rotate(-45)" font-size="6.5" text-anchor="end" stroke="#000" stroke-width="0.18">LK</text>
<text transform="translate(398.90,231.40) rotate(-45)" font-size="6.5" text-anchor="end" stroke="#000" stroke-width="0.18">LSK</text>
<text transform="translate(414.50,138.80)" font-size="11" font-weight="bold" stroke="#000" stroke-width="0.18">G</text>
<text transform="translate(422.40,186.40) rotate(-90) scale(0.8478,1)" font-size="9.1" text-anchor="middle" stroke="#000" stroke-width="0.08">CD45.2<tspan font-size="5.642" dy="-3.276">+</tspan><tspan dy="3.276"> cells in BM (%)</tspan></text>
<line x1="444.95" y1="184.65" x2="444.95" y2="174.64" stroke="#A00D2F" stroke-width="1.2"/>
<line x1="442.95" y1="174.64" x2="446.95" y2="174.64" stroke="#A00D2F" stroke-width="1.25"/>
<rect x="441.90" y="184.65" width="6.10" height="38.15" fill="#A90C30"/>
<line x1="447.75" y1="184.65" x2="447.75" y2="222.80" stroke="#8A0A28" stroke-width="0.5"/>
<line x1="451.70" y1="182.13" x2="451.70" y2="170.20" stroke="#68758E" stroke-width="1.2"/>
<line x1="449.70" y1="170.20" x2="453.70" y2="170.20" stroke="#68758E" stroke-width="1.25"/>
<rect x="448.60" y="182.13" width="6.20" height="40.67" fill="#6F7C95"/>
<line x1="454.55" y1="182.13" x2="454.55" y2="222.80" stroke="#5A6480" stroke-width="0.5"/>
<line x1="463.40" y1="187.34" x2="463.40" y2="179.76" stroke="#A00D2F" stroke-width="1.2"/>
<line x1="461.40" y1="179.76" x2="465.40" y2="179.76" stroke="#A00D2F" stroke-width="1.25"/>
<rect x="460.40" y="187.34" width="6.00" height="35.46" fill="#A90C30"/>
<line x1="466.15" y1="187.34" x2="466.15" y2="222.80" stroke="#8A0A28" stroke-width="0.5"/>
<line x1="469.85" y1="192.73" x2="469.85" y2="185.93" stroke="#68758E" stroke-width="1.2"/>
<line x1="467.85" y1="185.93" x2="471.85" y2="185.93" stroke="#68758E" stroke-width="1.25"/>
<rect x="466.90" y="192.73" width="5.90" height="30.07" fill="#6F7C95"/>
<line x1="472.55" y1="192.73" x2="472.55" y2="222.80" stroke="#5A6480" stroke-width="0.5"/>
<line x1="481.80" y1="181.78" x2="481.80" y2="174.03" stroke="#A00D2F" stroke-width="1.2"/>
<line x1="479.80" y1="174.03" x2="483.80" y2="174.03" stroke="#A00D2F" stroke-width="1.25"/>
<rect x="478.70" y="181.78" width="6.20" height="41.02" fill="#A90C30"/>
<line x1="484.65" y1="181.78" x2="484.65" y2="222.80" stroke="#8A0A28" stroke-width="0.5"/>
<line x1="488.35" y1="192.12" x2="488.35" y2="185.15" stroke="#68758E" stroke-width="1.2"/>
<line x1="486.35" y1="185.15" x2="490.35" y2="185.15" stroke="#68758E" stroke-width="1.25"/>
<rect x="485.40" y="192.12" width="5.90" height="30.68" fill="#6F7C95"/>
<line x1="491.05" y1="192.12" x2="491.05" y2="222.80" stroke="#5A6480" stroke-width="0.5"/>
<line x1="500.15" y1="192.12" x2="500.15" y2="186.54" stroke="#A00D2F" stroke-width="1.2"/>
<line x1="498.15" y1="186.54" x2="502.15" y2="186.54" stroke="#A00D2F" stroke-width="1.25"/>
<rect x="497.10" y="192.12" width="6.10" height="30.68" fill="#A90C30"/>
<line x1="502.95" y1="192.12" x2="502.95" y2="222.80" stroke="#8A0A28" stroke-width="0.5"/>
<line x1="506.75" y1="194.99" x2="506.75" y2="187.41" stroke="#68758E" stroke-width="1.2"/>
<line x1="504.75" y1="187.41" x2="508.75" y2="187.41" stroke="#68758E" stroke-width="1.25"/>
<rect x="503.80" y="194.99" width="5.90" height="27.81" fill="#6F7C95"/>
<line x1="509.45" y1="194.99" x2="509.45" y2="222.80" stroke="#5A6480" stroke-width="0.5"/>
<line x1="441.30" y1="150.80" x2="441.30" y2="223.35" stroke="#111" stroke-width="1.1"/>
<line x1="437.90" y1="222.80" x2="512.50" y2="222.80" stroke="#111" stroke-width="1.1"/>
<line x1="438.00" y1="222.80" x2="441.30" y2="222.80" stroke="#111" stroke-width="1"/>
<text transform="translate(435.00,225.14)" font-size="6.5" text-anchor="end" stroke="#000" stroke-width="0.18">0</text>
<line x1="438.00" y1="214.11" x2="441.30" y2="214.11" stroke="#111" stroke-width="1"/>
<text transform="translate(435.00,216.45)" font-size="6.5" text-anchor="end" stroke="#000" stroke-width="0.18">10</text>
<line x1="438.00" y1="205.42" x2="441.30" y2="205.42" stroke="#111" stroke-width="1"/>
<text transform="translate(435.00,207.76)" font-size="6.5" text-anchor="end" stroke="#000" stroke-width="0.18">20</text>
<line x1="438.00" y1="196.73" x2="441.30" y2="196.73" stroke="#111" stroke-width="1"/>
<text transform="translate(435.00,199.07)" font-size="6.5" text-anchor="end" stroke="#000" stroke-width="0.18">30</text>
<line x1="438.00" y1="188.04" x2="441.30" y2="188.04" stroke="#111" stroke-width="1"/>
<text transform="translate(435.00,190.38)" font-size="6.5" text-anchor="end" stroke="#000" stroke-width="0.18">40</text>
<line x1="438.00" y1="179.35" x2="441.30" y2="179.35" stroke="#111" stroke-width="1"/>
<text transform="translate(435.00,181.69)" font-size="6.5" text-anchor="end" stroke="#000" stroke-width="0.18">50</text>
<line x1="438.00" y1="170.66" x2="441.30" y2="170.66" stroke="#111" stroke-width="1"/>
<text transform="translate(435.00,173.00)" font-size="6.5" text-anchor="end" stroke="#000" stroke-width="0.18">60</text>
<line x1="438.00" y1="161.97" x2="441.30" y2="161.97" stroke="#111" stroke-width="1"/>
<text transform="translate(435.00,164.31)" font-size="6.5" text-anchor="end" stroke="#000" stroke-width="0.18">70</text>
<line x1="438.00" y1="153.28" x2="441.30" y2="153.28" stroke="#111" stroke-width="1"/>
<text transform="translate(435.00,155.62)" font-size="6.5" text-anchor="end" stroke="#000" stroke-width="0.18">80</text>
<line x1="447.80" y1="222.80" x2="447.80" y2="225.60" stroke="#111" stroke-width="0.9"/>
<line x1="466.30" y1="222.80" x2="466.30" y2="225.60" stroke="#111" stroke-width="0.9"/>
<line x1="484.80" y1="222.80" x2="484.80" y2="225.60" stroke="#111" stroke-width="0.9"/>
<line x1="503.20" y1="222.80" x2="503.20" y2="225.60" stroke="#111" stroke-width="0.9"/>
<text transform="translate(451.70,231.40) rotate(-45)" font-size="6.5" text-anchor="end" stroke="#000" stroke-width="0.18">HSC</text>
<text transform="translate(470.20,231.40) rotate(-45)" font-size="6.5" text-anchor="end" stroke="#000" stroke-width="0.18">MPP</text>
<text transform="translate(488.70,231.40) rotate(-45)" font-size="6.5" text-anchor="end" stroke="#000" stroke-width="0.18">HPC-1</text>
<text transform="translate(507.20,231.40) rotate(-45)" font-size="6.5" text-anchor="end" stroke="#000" stroke-width="0.18">HPC-2</text>
<text transform="translate(28.60,281.00)" font-size="11" font-weight="bold" stroke="#000" stroke-width="0.18">H</text>
<text transform="translate(36.30,329.50) rotate(-90) scale(0.8539,1)" font-size="9.1" text-anchor="middle" stroke="#000" stroke-width="0.08">CD45.2<tspan font-size="5.642" dy="-3.276">+</tspan><tspan dy="3.276"> cells in PB (%)</tspan></text>
<line x1="58.65" y1="322.73" x2="58.65" y2="313.12" stroke="#A00D2F" stroke-width="1.2"/>
<line x1="56.65" y1="313.12" x2="60.65" y2="313.12" stroke="#A00D2F" stroke-width="1.25"/>
<rect x="55.50" y="322.73" width="6.30" height="43.07" fill="#A90C30"/>
<line x1="61.55" y1="322.73" x2="61.55" y2="365.80" stroke="#8A0A28" stroke-width="0.5"/>
<line x1="65.35" y1="311.37" x2="65.35" y2="306.33" stroke="#68758E" stroke-width="1.2"/>
<line x1="63.35" y1="306.33" x2="67.35" y2="306.33" stroke="#68758E" stroke-width="1.25"/>
<rect x="62.30" y="311.37" width="6.10" height="54.43" fill="#6F7C95"/>
<line x1="68.15" y1="311.37" x2="68.15" y2="365.80" stroke="#5A6480" stroke-width="0.5"/>
<line x1="76.95" y1="334.78" x2="76.95" y2="329.04" stroke="#A00D2F" stroke-width="1.2"/>
<line x1="74.95" y1="329.04" x2="78.95" y2="329.04" stroke="#A00D2F" stroke-width="1.25"/>
<rect x="73.80" y="334.78" width="6.30" height="31.02" fill="#A90C30"/>
<line x1="79.85" y1="334.78" x2="79.85" y2="365.80" stroke="#8A0A28" stroke-width="0.5"/>
<line x1="83.65" y1="330.48" x2="83.65" y2="326.00" stroke="#68758E" stroke-width="1.2"/>
<line x1="81.65" y1="326.00" x2="85.65" y2="326.00" stroke="#68758E" stroke-width="1.25"/>
<rect x="80.60" y="330.48" width="6.10" height="35.32" fill="#6F7C95"/>
<line x1="86.45" y1="330.48" x2="86.45" y2="365.80" stroke="#5A6480" stroke-width="0.5"/>
<line x1="95.25" y1="333.53" x2="95.25" y2="328.21" stroke="#A00D2F" stroke-width="1.2"/>
<line x1="93.25" y1="328.21" x2="97.25" y2="328.21" stroke="#A00D2F" stroke-width="1.25"/>
<rect x="92.10" y="333.53" width="6.30" height="32.27" fill="#A90C30"/>
<line x1="98.15" y1="333.53" x2="98.15" y2="365.80" stroke="#8A0A28" stroke-width="0.5"/>
<line x1="101.95" y1="338.10" x2="101.95" y2="332.23" stroke="#68758E" stroke-width="1.2"/>
<line x1="99.95" y1="332.23" x2="103.95" y2="332.23" stroke="#68758E" stroke-width="1.25"/>
<rect x="98.90" y="338.10" width="6.10" height="27.70" fill="#6F7C95"/>
<line x1="104.75" y1="338.10" x2="104.75" y2="365.80" stroke="#5A6480" stroke-width="0.5"/>
<line x1="113.65" y1="337.82" x2="113.65" y2="326.55" stroke="#A00D2F" stroke-width="1.2"/>
<line x1="111.65" y1="326.55" x2="115.65" y2="326.55" stroke="#A00D2F" stroke-width="1.25"/>
<rect x="110.50" y="337.82" width="6.30" height="27.98" fill="#A90C30"/>
<line x1="116.55" y1="337.82" x2="116.55" y2="365.80" stroke="#8A0A28" stroke-width="0.5"/>
<line x1="120.35" y1="341.56" x2="120.35" y2="333.34" stroke="#68758E" stroke-width="1.2"/>
<line x1="118.35" y1="333.34" x2="122.35" y2="333.34" stroke="#68758E" stroke-width="1.25"/>
<rect x="117.30" y="341.56" width="6.10" height="24.24" fill="#6F7C95"/>
<line x1="123.15" y1="341.56" x2="123.15" y2="365.80" stroke="#5A6480" stroke-width="0.5"/>
<line x1="54.90" y1="294.50" x2="54.90" y2="366.35" stroke="#111" stroke-width="1.1"/>
<line x1="51.50" y1="365.80" x2="124.50" y2="365.80" stroke="#111" stroke-width="1.1"/>
<line x1="51.60" y1="365.80" x2="54.90" y2="365.80" stroke="#111" stroke-width="1"/>
<text transform="translate(48.60,368.14)" font-size="6.5" text-anchor="end" stroke="#000" stroke-width="0.18">0</text>
<line x1="51.60" y1="351.95" x2="54.90" y2="351.95" stroke="#111" stroke-width="1"/>
<text transform="translate(48.60,354.29)" font-size="6.5" text-anchor="end" stroke="#000" stroke-width="0.18">10</text>
<line x1="51.60" y1="338.10" x2="54.90" y2="338.10" stroke="#111" stroke-width="1"/>
<text transform="translate(48.60,340.44)" font-size="6.5" text-anchor="end" stroke="#000" stroke-width="0.18">20</text>
<line x1="51.60" y1="324.25" x2="54.90" y2="324.25" stroke="#111" stroke-width="1"/>
<text transform="translate(48.60,326.59)" font-size="6.5" text-anchor="end" stroke="#000" stroke-width="0.18">30</text>
<line x1="51.60" y1="310.40" x2="54.90" y2="310.40" stroke="#111" stroke-width="1"/>
<text transform="translate(48.60,312.74)" font-size="6.5" text-anchor="end" stroke="#000" stroke-width="0.18">40</text>
<line x1="51.60" y1="296.55" x2="54.90" y2="296.55" stroke="#111" stroke-width="1"/>
<text transform="translate(48.60,298.89)" font-size="6.5" text-anchor="end" stroke="#000" stroke-width="0.18">50</text>
<line x1="61.90" y1="365.80" x2="61.90" y2="368.60" stroke="#111" stroke-width="0.9"/>
<line x1="80.20" y1="365.80" x2="80.20" y2="368.60" stroke="#111" stroke-width="0.9"/>
<line x1="98.60" y1="365.80" x2="98.60" y2="368.60" stroke="#111" stroke-width="0.9"/>
<line x1="117.00" y1="365.80" x2="117.00" y2="368.60" stroke="#111" stroke-width="0.9"/>
<text transform="translate(61.90,377.00)" font-size="6.2" text-anchor="middle" stroke="#000" stroke-width="0.18">4</text>
<text transform="translate(80.20,377.00)" font-size="6.2" text-anchor="middle" stroke="#000" stroke-width="0.18">8</text>
<text transform="translate(98.60,377.00)" font-size="6.2" text-anchor="middle" stroke="#000" stroke-width="0.18">12</text>
<text transform="translate(117.00,377.00)" font-size="6.2" text-anchor="middle" stroke="#000" stroke-width="0.18">16</text>
<text transform="translate(43.80,390.30) scale(0.8346,1)" font-size="9.2" stroke="#000" stroke-width="0.08">Weeks after transplantation</text>
<text transform="translate(138.00,281.20)" font-size="11" font-weight="bold" stroke="#000" stroke-width="0.18">I</text>
<rect x="137.80" y="310.60" width="59.40" height="28.80" fill="#C6C6C6" stroke="#333" stroke-width="0.9"/>
<rect x="141.00" y="323.40" width="9.10" height="3.10" rx="0.9" fill="#050505"/>
<rect x="151.50" y="321.10" width="9.40" height="3.10" rx="0.9" fill="#050505"/>
<rect x="163.50" y="329.80" width="8.60" height="2.90" rx="0.9" fill="#050505"/>
<rect x="174.90" y="324.20" width="8.90" height="3.10" rx="0.9" fill="#050505"/>
<rect x="186.00" y="322.20" width="9.00" height="3.10" rx="0.9" fill="#050505"/>
<text transform="translate(144.40,309.70) rotate(-30)" font-size="5" fill="#222" stroke="#222" stroke-width="0.2">Control</text>
<text transform="translate(156.60,309.70) rotate(-30)" font-size="4.8" font-style="italic" fill="#222" stroke="#222" stroke-width="0.2">Hif-1α<tspan font-size="3.264" dy="-1.9" dx="0.5">fl/fl</tspan></text>
<text transform="translate(167.70,309.70) rotate(-30)" font-size="4.8" font-style="italic" fill="#222" stroke="#222" stroke-width="0.2">Hif-1α<tspan font-size="3.264" dy="-1.9" dx="0.5">−/−</tspan></text>
<text transform="translate(179.30,309.70) rotate(-30)" font-size="4.8" font-style="italic" fill="#222" stroke="#222" stroke-width="0.2">Hif-1α<tspan font-size="3.264" dy="-1.9" dx="0.5">fl/fl</tspan></text>
<text transform="translate(190.40,309.70) rotate(-30)" font-size="4.8" font-style="italic" fill="#222" stroke="#222" stroke-width="0.2">Hif-1α<tspan font-size="3.264" dy="-1.9" dx="0.5">fl/Δ</tspan></text>
<path d="M197.5 322.3 L200.4 322.3 L203.8 319.7" fill="none" stroke="#333" stroke-width="0.7"/>
<line x1="197.50" y1="325.70" x2="203.00" y2="325.70" stroke="#333" stroke-width="0.7"/>
<line x1="197.50" y1="331.40" x2="201.50" y2="331.40" stroke="#333" stroke-width="0.7"/>
<text transform="translate(203.40,320.70)" font-size="6.4" stroke="#000" stroke-width="0.18">Δ</text>
<text transform="translate(203.90,328.00)" font-size="6.4" stroke="#000" stroke-width="0.18">fl</text>
<text transform="translate(203.40,334.90) scale(1.0390,1)" font-size="6.2" stroke="#000" stroke-width="0.18">WT</text>
<line x1="163.70" y1="342.00" x2="194.90" y2="342.00" stroke="#333" stroke-width="1.2"/>
<text transform="translate(166.00,349.20) scale(0.9800,1)" font-size="4.8" stroke="#000" stroke-width="0.2">PCR controls</text>
<text transform="translate(230.30,280.80)" font-size="11" font-weight="bold" stroke="#000" stroke-width="0.18">J</text>
<text transform="translate(237.20,330.50) rotate(-90) scale(0.8426,1)" font-size="9.1" text-anchor="middle" stroke="#000" stroke-width="0.08">CD45.2<tspan font-size="5.642" dy="-3.276">+</tspan><tspan dy="3.276"> cells in BM (%)</tspan></text>
<line x1="259.25" y1="327.80" x2="259.25" y2="317.49" stroke="#A00D2F" stroke-width="1.2"/>
<line x1="257.25" y1="317.49" x2="261.25" y2="317.49" stroke="#A00D2F" stroke-width="1.25"/>
<rect x="256.30" y="327.80" width="5.90" height="37.80" fill="#A90C30"/>
<line x1="261.95" y1="327.80" x2="261.95" y2="365.60" stroke="#8A0A28" stroke-width="0.5"/>
<line x1="265.70" y1="327.11" x2="265.70" y2="317.05" stroke="#68758E" stroke-width="1.2"/>
<line x1="263.70" y1="317.05" x2="267.70" y2="317.05" stroke="#68758E" stroke-width="1.25"/>
<rect x="262.80" y="327.11" width="5.80" height="38.49" fill="#6F7C95"/>
<line x1="268.35" y1="327.11" x2="268.35" y2="365.60" stroke="#5A6480" stroke-width="0.5"/>
<line x1="277.65" y1="333.51" x2="277.65" y2="319.13" stroke="#A00D2F" stroke-width="1.2"/>
<line x1="275.65" y1="319.13" x2="279.65" y2="319.13" stroke="#A00D2F" stroke-width="1.25"/>
<rect x="274.70" y="333.51" width="5.90" height="32.09" fill="#A90C30"/>
<line x1="280.35" y1="333.51" x2="280.35" y2="365.60" stroke="#8A0A28" stroke-width="0.5"/>
<line x1="284.10" y1="331.95" x2="284.10" y2="319.13" stroke="#68758E" stroke-width="1.2"/>
<line x1="282.10" y1="319.13" x2="286.10" y2="319.13" stroke="#68758E" stroke-width="1.25"/>
<rect x="281.20" y="331.95" width="5.80" height="33.65" fill="#6F7C95"/>
<line x1="286.75" y1="331.95" x2="286.75" y2="365.60" stroke="#5A6480" stroke-width="0.5"/>
<line x1="296.05" y1="339.82" x2="296.05" y2="327.61" stroke="#A00D2F" stroke-width="1.2"/>
<line x1="294.05" y1="327.61" x2="298.05" y2="327.61" stroke="#A00D2F" stroke-width="1.25"/>
<rect x="293.10" y="339.82" width="5.90" height="25.78" fill="#A90C30"/>
<line x1="298.75" y1="339.82" x2="298.75" y2="365.60" stroke="#8A0A28" stroke-width="0.5"/>
<line x1="302.50" y1="332.82" x2="302.50" y2="321.29" stroke="#68758E" stroke-width="1.2"/>
<line x1="300.50" y1="321.29" x2="304.50" y2="321.29" stroke="#68758E" stroke-width="1.25"/>
<rect x="299.60" y="332.82" width="5.80" height="32.78" fill="#6F7C95"/>
<line x1="305.15" y1="332.82" x2="305.15" y2="365.60" stroke="#5A6480" stroke-width="0.5"/>
<line x1="314.55" y1="336.19" x2="314.55" y2="325.88" stroke="#A00D2F" stroke-width="1.2"/>
<line x1="312.55" y1="325.88" x2="316.55" y2="325.88" stroke="#A00D2F" stroke-width="1.25"/>
<rect x="311.60" y="336.19" width="5.90" height="29.41" fill="#A90C30"/>
<line x1="317.25" y1="336.19" x2="317.25" y2="365.60" stroke="#8A0A28" stroke-width="0.5"/>
<line x1="321.00" y1="340.26" x2="321.00" y2="330.81" stroke="#68758E" stroke-width="1.2"/>
<line x1="319.00" y1="330.81" x2="323.00" y2="330.81" stroke="#68758E" stroke-width="1.25"/>
<rect x="318.10" y="340.26" width="5.80" height="25.34" fill="#6F7C95"/>
<line x1="323.65" y1="340.26" x2="323.65" y2="365.60" stroke="#5A6480" stroke-width="0.5"/>
<line x1="255.70" y1="293.70" x2="255.70" y2="366.15" stroke="#111" stroke-width="1.1"/>
<line x1="252.30" y1="365.60" x2="325.00" y2="365.60" stroke="#111" stroke-width="1.1"/>
<line x1="252.40" y1="365.60" x2="255.70" y2="365.60" stroke="#111" stroke-width="1"/>
<text transform="translate(249.40,367.94)" font-size="6.5" text-anchor="end" stroke="#000" stroke-width="0.18">0</text>
<line x1="252.40" y1="356.95" x2="255.70" y2="356.95" stroke="#111" stroke-width="1"/>
<text transform="translate(249.40,359.29)" font-size="6.5" text-anchor="end" stroke="#000" stroke-width="0.18">10</text>
<line x1="252.40" y1="348.30" x2="255.70" y2="348.30" stroke="#111" stroke-width="1"/>
<text transform="translate(249.40,350.64)" font-size="6.5" text-anchor="end" stroke="#000" stroke-width="0.18">20</text>
<line x1="252.40" y1="339.65" x2="255.70" y2="339.65" stroke="#111" stroke-width="1"/>
<text transform="translate(249.40,341.99)" font-size="6.5" text-anchor="end" stroke="#000" stroke-width="0.18">30</text>
<line x1="252.40" y1="331.00" x2="255.70" y2="331.00" stroke="#111" stroke-width="1"/>
<text transform="translate(249.40,333.34)" font-size="6.5" text-anchor="end" stroke="#000" stroke-width="0.18">40</text>
<line x1="252.40" y1="322.35" x2="255.70" y2="322.35" stroke="#111" stroke-width="1"/>
<text transform="translate(249.40,324.69)" font-size="6.5" text-anchor="end" stroke="#000" stroke-width="0.18">50</text>
<line x1="252.40" y1="313.70" x2="255.70" y2="313.70" stroke="#111" stroke-width="1"/>
<text transform="translate(249.40,316.04)" font-size="6.5" text-anchor="end" stroke="#000" stroke-width="0.18">60</text>
<line x1="252.40" y1="305.05" x2="255.70" y2="305.05" stroke="#111" stroke-width="1"/>
<text transform="translate(249.40,307.39)" font-size="6.5" text-anchor="end" stroke="#000" stroke-width="0.18">70</text>
<line x1="252.40" y1="296.40" x2="255.70" y2="296.40" stroke="#111" stroke-width="1"/>
<text transform="translate(249.40,298.74)" font-size="6.5" text-anchor="end" stroke="#000" stroke-width="0.18">80</text>
<line x1="262.40" y1="365.60" x2="262.40" y2="368.40" stroke="#111" stroke-width="0.9"/>
<line x1="280.80" y1="365.60" x2="280.80" y2="368.40" stroke="#111" stroke-width="0.9"/>
<line x1="299.30" y1="365.60" x2="299.30" y2="368.40" stroke="#111" stroke-width="0.9"/>
<line x1="317.70" y1="365.60" x2="317.70" y2="368.40" stroke="#111" stroke-width="0.9"/>
<text transform="translate(266.30,374.20) rotate(-45)" font-size="6.5" text-anchor="end" stroke="#000" stroke-width="0.18">Total</text>
<text transform="translate(284.70,374.20) rotate(-45)" font-size="6.5" text-anchor="end" stroke="#000" stroke-width="0.18">Myeloid</text>
<text transform="translate(303.20,374.20) rotate(-45)" font-size="6.5" text-anchor="end" stroke="#000" stroke-width="0.18">B lymphoid</text>
<text transform="translate(321.70,374.20) rotate(-45)" font-size="6.5" text-anchor="end" stroke="#000" stroke-width="0.18">Erythroid</text>
<text transform="translate(340.30,281.00)" font-size="11" font-weight="bold" stroke="#000" stroke-width="0.18">K</text>
<text transform="translate(347.70,329.80) rotate(-90) scale(0.8581,1)" font-size="9.1" text-anchor="middle" stroke="#000" stroke-width="0.08">CD45.2<tspan font-size="5.642" dy="-3.276">+</tspan><tspan dy="3.276"> cells in BM (%)</tspan></text>
<line x1="371.10" y1="330.27" x2="371.10" y2="315.27" stroke="#A00D2F" stroke-width="1.2"/>
<line x1="369.10" y1="315.27" x2="373.10" y2="315.27" stroke="#A00D2F" stroke-width="1.25"/>
<rect x="368.20" y="330.27" width="5.80" height="35.33" fill="#A90C30"/>
<line x1="373.75" y1="330.27" x2="373.75" y2="365.60" stroke="#8A0A28" stroke-width="0.5"/>
<line x1="377.50" y1="327.06" x2="377.50" y2="315.53" stroke="#68758E" stroke-width="1.2"/>
<line x1="375.50" y1="315.53" x2="379.50" y2="315.53" stroke="#68758E" stroke-width="1.25"/>
<rect x="374.60" y="327.06" width="5.80" height="38.54" fill="#6F7C95"/>
<line x1="380.15" y1="327.06" x2="380.15" y2="365.60" stroke="#5A6480" stroke-width="0.5"/>
<line x1="389.10" y1="331.91" x2="389.10" y2="319.08" stroke="#A00D2F" stroke-width="1.2"/>
<line x1="387.10" y1="319.08" x2="391.10" y2="319.08" stroke="#A00D2F" stroke-width="1.25"/>
<rect x="386.20" y="331.91" width="5.80" height="33.69" fill="#A90C30"/>
<line x1="391.75" y1="331.91" x2="391.75" y2="365.60" stroke="#8A0A28" stroke-width="0.5"/>
<line x1="395.50" y1="340.40" x2="395.50" y2="331.81" stroke="#68758E" stroke-width="1.2"/>
<line x1="393.50" y1="331.81" x2="397.50" y2="331.81" stroke="#68758E" stroke-width="1.25"/>
<rect x="392.60" y="340.40" width="5.80" height="25.20" fill="#6F7C95"/>
<line x1="398.15" y1="340.40" x2="398.15" y2="365.60" stroke="#5A6480" stroke-width="0.5"/>
<line x1="367.70" y1="293.80" x2="367.70" y2="366.15" stroke="#111" stroke-width="1.1"/>
<line x1="364.30" y1="365.60" x2="401.00" y2="365.60" stroke="#111" stroke-width="1.1"/>
<line x1="364.40" y1="365.60" x2="367.70" y2="365.60" stroke="#111" stroke-width="1"/>
<text transform="translate(361.40,367.94)" font-size="6.5" text-anchor="end" stroke="#000" stroke-width="0.18">0</text>
<line x1="364.40" y1="348.28" x2="367.70" y2="348.28" stroke="#111" stroke-width="1"/>
<text transform="translate(361.40,350.62)" font-size="6.5" text-anchor="end" stroke="#000" stroke-width="0.18">20</text>
<line x1="364.40" y1="330.96" x2="367.70" y2="330.96" stroke="#111" stroke-width="1"/>
<text transform="translate(361.40,333.30)" font-size="6.5" text-anchor="end" stroke="#000" stroke-width="0.18">40</text>
<line x1="364.40" y1="313.64" x2="367.70" y2="313.64" stroke="#111" stroke-width="1"/>
<text transform="translate(361.40,315.98)" font-size="6.5" text-anchor="end" stroke="#000" stroke-width="0.18">60</text>
<line x1="364.40" y1="296.32" x2="367.70" y2="296.32" stroke="#111" stroke-width="1"/>
<text transform="translate(361.40,298.66)" font-size="6.5" text-anchor="end" stroke="#000" stroke-width="0.18">80</text>
<line x1="374.20" y1="365.60" x2="374.20" y2="368.40" stroke="#111" stroke-width="0.9"/>
<line x1="392.30" y1="365.60" x2="392.30" y2="368.40" stroke="#111" stroke-width="0.9"/>
<text transform="translate(378.10,374.20) rotate(-45)" font-size="6.5" text-anchor="end" stroke="#000" stroke-width="0.18">LK</text>
<text transform="translate(396.30,374.20) rotate(-45)" font-size="6.5" text-anchor="end" stroke="#000" stroke-width="0.18">LSK</text>
<text transform="translate(416.20,281.00)" font-size="11" font-weight="bold" stroke="#000" stroke-width="0.18">L</text>
<text transform="translate(422.60,329.80) rotate(-90) scale(0.8581,1)" font-size="9.1" text-anchor="middle" stroke="#000" stroke-width="0.08">CD45.2<tspan font-size="5.642" dy="-3.276">+</tspan><tspan dy="3.276"> cells in BM (%)</tspan></text>
<line x1="445.25" y1="327.34" x2="445.25" y2="317.29" stroke="#A00D2F" stroke-width="1.2"/>
<line x1="443.25" y1="317.29" x2="447.25" y2="317.29" stroke="#A00D2F" stroke-width="1.25"/>
<rect x="442.30" y="327.34" width="5.90" height="38.06" fill="#A90C30"/>
<line x1="447.95" y1="327.34" x2="447.95" y2="365.40" stroke="#8A0A28" stroke-width="0.5"/>
<line x1="451.70" y1="326.47" x2="451.70" y2="316.42" stroke="#68758E" stroke-width="1.2"/>
<line x1="449.70" y1="316.42" x2="453.70" y2="316.42" stroke="#68758E" stroke-width="1.25"/>
<rect x="448.80" y="326.47" width="5.80" height="38.93" fill="#6F7C95"/>
<line x1="454.35" y1="326.47" x2="454.35" y2="365.40" stroke="#5A6480" stroke-width="0.5"/>
<line x1="463.65" y1="332.88" x2="463.65" y2="318.50" stroke="#A00D2F" stroke-width="1.2"/>
<line x1="461.65" y1="318.50" x2="465.65" y2="318.50" stroke="#A00D2F" stroke-width="1.25"/>
<rect x="460.70" y="332.88" width="5.90" height="32.52" fill="#A90C30"/>
<line x1="466.35" y1="332.88" x2="466.35" y2="365.40" stroke="#8A0A28" stroke-width="0.5"/>
<line x1="470.10" y1="331.15" x2="470.10" y2="318.50" stroke="#68758E" stroke-width="1.2"/>
<line x1="468.10" y1="318.50" x2="472.10" y2="318.50" stroke="#68758E" stroke-width="1.25"/>
<rect x="467.20" y="331.15" width="5.80" height="34.25" fill="#6F7C95"/>
<line x1="472.75" y1="331.15" x2="472.75" y2="365.40" stroke="#5A6480" stroke-width="0.5"/>
<line x1="482.15" y1="339.19" x2="482.15" y2="327.41" stroke="#A00D2F" stroke-width="1.2"/>
<line x1="480.15" y1="327.41" x2="484.15" y2="327.41" stroke="#A00D2F" stroke-width="1.25"/>
<rect x="479.20" y="339.19" width="5.90" height="26.21" fill="#A90C30"/>
<line x1="484.85" y1="339.19" x2="484.85" y2="365.40" stroke="#8A0A28" stroke-width="0.5"/>
<line x1="488.60" y1="331.75" x2="488.60" y2="320.57" stroke="#68758E" stroke-width="1.2"/>
<line x1="486.60" y1="320.57" x2="490.60" y2="320.57" stroke="#68758E" stroke-width="1.25"/>
<rect x="485.70" y="331.75" width="5.80" height="33.65" fill="#6F7C95"/>
<line x1="491.25" y1="331.75" x2="491.25" y2="365.40" stroke="#5A6480" stroke-width="0.5"/>
<line x1="500.45" y1="335.99" x2="500.45" y2="325.68" stroke="#A00D2F" stroke-width="1.2"/>
<line x1="498.45" y1="325.68" x2="502.45" y2="325.68" stroke="#A00D2F" stroke-width="1.25"/>
<rect x="497.50" y="335.99" width="5.90" height="29.41" fill="#A90C30"/>
<line x1="503.15" y1="335.99" x2="503.15" y2="365.40" stroke="#8A0A28" stroke-width="0.5"/>
<line x1="506.95" y1="340.06" x2="506.95" y2="330.00" stroke="#68758E" stroke-width="1.2"/>
<line x1="504.95" y1="330.00" x2="508.95" y2="330.00" stroke="#68758E" stroke-width="1.25"/>
<rect x="504.00" y="340.06" width="5.90" height="25.34" fill="#6F7C95"/>
<line x1="509.65" y1="340.06" x2="509.65" y2="365.40" stroke="#5A6480" stroke-width="0.5"/>
<line x1="441.70" y1="293.40" x2="441.70" y2="365.95" stroke="#111" stroke-width="1.1"/>
<line x1="438.30" y1="365.40" x2="513.00" y2="365.40" stroke="#111" stroke-width="1.1"/>
<line x1="438.40" y1="365.40" x2="441.70" y2="365.40" stroke="#111" stroke-width="1"/>
<text transform="translate(435.80,367.74)" font-size="6.5" text-anchor="end" stroke="#000" stroke-width="0.18">0</text>
<line x1="438.40" y1="356.75" x2="441.70" y2="356.75" stroke="#111" stroke-width="1"/>
<text transform="translate(435.80,359.09)" font-size="6.5" text-anchor="end" stroke="#000" stroke-width="0.18">10</text>
<line x1="438.40" y1="348.10" x2="441.70" y2="348.10" stroke="#111" stroke-width="1"/>
<text transform="translate(435.80,350.44)" font-size="6.5" text-anchor="end" stroke="#000" stroke-width="0.18">20</text>
<line x1="438.40" y1="339.45" x2="441.70" y2="339.45" stroke="#111" stroke-width="1"/>
<text transform="translate(435.80,341.79)" font-size="6.5" text-anchor="end" stroke="#000" stroke-width="0.18">30</text>
<line x1="438.40" y1="330.80" x2="441.70" y2="330.80" stroke="#111" stroke-width="1"/>
<text transform="translate(435.80,333.14)" font-size="6.5" text-anchor="end" stroke="#000" stroke-width="0.18">40</text>
<line x1="438.40" y1="322.15" x2="441.70" y2="322.15" stroke="#111" stroke-width="1"/>
<text transform="translate(435.80,324.49)" font-size="6.5" text-anchor="end" stroke="#000" stroke-width="0.18">50</text>
<line x1="438.40" y1="313.50" x2="441.70" y2="313.50" stroke="#111" stroke-width="1"/>
<text transform="translate(435.80,315.84)" font-size="6.5" text-anchor="end" stroke="#000" stroke-width="0.18">60</text>
<line x1="438.40" y1="304.85" x2="441.70" y2="304.85" stroke="#111" stroke-width="1"/>
<text transform="translate(435.80,307.19)" font-size="6.5" text-anchor="end" stroke="#000" stroke-width="0.18">70</text>
<line x1="438.40" y1="296.20" x2="441.70" y2="296.20" stroke="#111" stroke-width="1"/>
<text transform="translate(435.80,298.54)" font-size="6.5" text-anchor="end" stroke="#000" stroke-width="0.18">80</text>
<line x1="448.40" y1="365.40" x2="448.40" y2="368.20" stroke="#111" stroke-width="0.9"/>
<line x1="466.80" y1="365.40" x2="466.80" y2="368.20" stroke="#111" stroke-width="0.9"/>
<line x1="485.30" y1="365.40" x2="485.30" y2="368.20" stroke="#111" stroke-width="0.9"/>
<line x1="503.70" y1="365.40" x2="503.70" y2="368.20" stroke="#111" stroke-width="0.9"/>
<text transform="translate(452.30,374.00) rotate(-45)" font-size="6.5" text-anchor="end" stroke="#000" stroke-width="0.18">HSC</text>
<text transform="translate(470.70,374.00) rotate(-45)" font-size="6.5" text-anchor="end" stroke="#000" stroke-width="0.18">MPP</text>
<text transform="translate(489.20,374.00) rotate(-45)" font-size="6.5" text-anchor="end" stroke="#000" stroke-width="0.18">HPC-1</text>
<text transform="translate(507.70,374.00) rotate(-45)" font-size="6.5" text-anchor="end" stroke="#000" stroke-width="0.18">HPC-2</text>
<text transform="translate(26.20,423.80)" font-size="11" font-weight="bold" stroke="#000" stroke-width="0.18">M</text>
<text transform="translate(33.70,471.70) rotate(-90) scale(0.8591,1)" font-size="9" text-anchor="middle" stroke="#000" stroke-width="0.08">Recipients with</text>
<text transform="translate(44.30,472.00) rotate(-90) scale(0.8549,1)" font-size="9" text-anchor="middle" stroke="#000" stroke-width="0.08">long-term multilineage</text>
<text transform="translate(54.70,470.80) rotate(-90) scale(0.9082,1)" font-size="9" text-anchor="middle" stroke="#000" stroke-width="0.08">reconstitution (%)</text>
<rect x="77.80" y="481.89" width="7.90" height="25.81" fill="#A90C30"/>
<line x1="85.45" y1="481.89" x2="85.45" y2="507.70" stroke="#8A0A28" stroke-width="0.5"/>
<rect x="89.90" y="478.79" width="7.90" height="28.91" fill="#6F7C95"/>
<line x1="97.55" y1="478.79" x2="97.55" y2="507.70" stroke="#5A6480" stroke-width="0.5"/>
<line x1="74.50" y1="436.40" x2="74.50" y2="508.25" stroke="#111" stroke-width="1.1"/>
<line x1="71.10" y1="507.70" x2="103.20" y2="507.70" stroke="#111" stroke-width="1.1"/>
<line x1="71.20" y1="507.70" x2="74.50" y2="507.70" stroke="#111" stroke-width="1"/>
<text transform="translate(70.10,510.04)" font-size="6.5" text-anchor="end" stroke="#000" stroke-width="0.18">0</text>
<line x1="71.20" y1="493.90" x2="74.50" y2="493.90" stroke="#111" stroke-width="1"/>
<text transform="translate(70.10,496.24)" font-size="6.5" text-anchor="end" stroke="#000" stroke-width="0.18">20</text>
<line x1="71.20" y1="480.10" x2="74.50" y2="480.10" stroke="#111" stroke-width="1"/>
<text transform="translate(70.10,482.44)" font-size="6.5" text-anchor="end" stroke="#000" stroke-width="0.18">40</text>
<line x1="71.20" y1="466.30" x2="74.50" y2="466.30" stroke="#111" stroke-width="1"/>
<text transform="translate(70.10,468.64)" font-size="6.5" text-anchor="end" stroke="#000" stroke-width="0.18">60</text>
<line x1="71.20" y1="452.50" x2="74.50" y2="452.50" stroke="#111" stroke-width="1"/>
<text transform="translate(70.10,454.84)" font-size="6.5" text-anchor="end" stroke="#000" stroke-width="0.18">80</text>
<line x1="71.20" y1="438.70" x2="74.50" y2="438.70" stroke="#111" stroke-width="1"/>
<text transform="translate(70.10,441.04)" font-size="6.5" text-anchor="end" stroke="#000" stroke-width="0.18">100</text>
<text transform="translate(81.80,480.80)" font-size="5" text-anchor="middle" stroke="#000" stroke-width="0.05">7/19</text>
<text transform="translate(93.80,477.20)" font-size="5" text-anchor="middle" stroke="#000" stroke-width="0.05">5/12</text>
<text transform="translate(118.60,423.80)" font-size="11" font-weight="bold" stroke="#000" stroke-width="0.18">N</text>
<text transform="translate(126.20,472.00) rotate(-90) scale(0.8529,1)" font-size="9.1" text-anchor="middle" stroke="#000" stroke-width="0.08">CD45.2<tspan font-size="5.642" dy="-3.276">+</tspan><tspan dy="3.276"> cells in BM (%)</tspan></text>
<line x1="148.90" y1="502.55" x2="148.90" y2="500.99" stroke="#A00D2F" stroke-width="1.2"/>
<line x1="146.90" y1="500.99" x2="150.90" y2="500.99" stroke="#A00D2F" stroke-width="1.25"/>
<rect x="145.80" y="502.55" width="6.20" height="5.15" fill="#A90C30"/>
<line x1="151.75" y1="502.55" x2="151.75" y2="507.70" stroke="#8A0A28" stroke-width="0.5"/>
<line x1="155.60" y1="496.71" x2="155.60" y2="492.06" stroke="#68758E" stroke-width="1.2"/>
<line x1="153.60" y1="492.06" x2="157.60" y2="492.06" stroke="#68758E" stroke-width="1.25"/>
<rect x="152.60" y="496.71" width="6.00" height="10.99" fill="#6F7C95"/>
<line x1="158.35" y1="496.71" x2="158.35" y2="507.70" stroke="#5A6480" stroke-width="0.5"/>
<line x1="167.25" y1="498.43" x2="167.25" y2="492.40" stroke="#A00D2F" stroke-width="1.2"/>
<line x1="165.25" y1="492.40" x2="169.25" y2="492.40" stroke="#A00D2F" stroke-width="1.25"/>
<rect x="164.20" y="498.43" width="6.10" height="9.27" fill="#A90C30"/>
<line x1="170.05" y1="498.43" x2="170.05" y2="507.70" stroke="#8A0A28" stroke-width="0.5"/>
<line x1="173.90" y1="490.52" x2="173.90" y2="481.06" stroke="#68758E" stroke-width="1.2"/>
<line x1="171.90" y1="481.06" x2="175.90" y2="481.06" stroke="#68758E" stroke-width="1.25"/>
<rect x="170.90" y="490.52" width="6.00" height="17.18" fill="#6F7C95"/>
<line x1="176.65" y1="490.52" x2="176.65" y2="507.70" stroke="#5A6480" stroke-width="0.5"/>
<line x1="185.65" y1="504.61" x2="185.65" y2="503.73" stroke="#A00D2F" stroke-width="1.2"/>
<line x1="183.65" y1="503.73" x2="187.65" y2="503.73" stroke="#A00D2F" stroke-width="1.25"/>
<rect x="182.60" y="504.61" width="6.10" height="3.09" fill="#A90C30"/>
<line x1="188.45" y1="504.61" x2="188.45" y2="507.70" stroke="#8A0A28" stroke-width="0.5"/>
<rect x="189.30" y="507.29" width="6.00" height="0.41" fill="#6F7C95"/>
<line x1="195.05" y1="507.29" x2="195.05" y2="507.70" stroke="#5A6480" stroke-width="0.5"/>
<line x1="204.25" y1="482.97" x2="204.25" y2="476.60" stroke="#A00D2F" stroke-width="1.2"/>
<line x1="202.25" y1="476.60" x2="206.25" y2="476.60" stroke="#A00D2F" stroke-width="1.25"/>
<rect x="201.20" y="482.97" width="6.10" height="24.73" fill="#A90C30"/>
<line x1="207.05" y1="482.97" x2="207.05" y2="507.70" stroke="#8A0A28" stroke-width="0.5"/>
<line x1="210.95" y1="478.50" x2="210.95" y2="467.67" stroke="#68758E" stroke-width="1.2"/>
<line x1="208.95" y1="467.67" x2="212.95" y2="467.67" stroke="#68758E" stroke-width="1.25"/>
<rect x="207.90" y="478.50" width="6.10" height="29.20" fill="#6F7C95"/>
<line x1="213.75" y1="478.50" x2="213.75" y2="507.70" stroke="#5A6480" stroke-width="0.5"/>
<line x1="145.20" y1="436.40" x2="145.20" y2="508.25" stroke="#111" stroke-width="1.1"/>
<line x1="141.80" y1="507.70" x2="216.30" y2="507.70" stroke="#111" stroke-width="1.1"/>
<line x1="141.90" y1="507.70" x2="145.20" y2="507.70" stroke="#111" stroke-width="1"/>
<text transform="translate(139.70,510.04)" font-size="6.5" text-anchor="end" stroke="#000" stroke-width="0.18">0</text>
<line x1="141.90" y1="490.52" x2="145.20" y2="490.52" stroke="#111" stroke-width="1"/>
<text transform="translate(139.70,492.86)" font-size="6.5" text-anchor="end" stroke="#000" stroke-width="0.18">5</text>
<line x1="141.90" y1="473.35" x2="145.20" y2="473.35" stroke="#111" stroke-width="1"/>
<text transform="translate(139.70,475.69)" font-size="6.5" text-anchor="end" stroke="#000" stroke-width="0.18">10</text>
<line x1="141.90" y1="456.18" x2="145.20" y2="456.18" stroke="#111" stroke-width="1"/>
<text transform="translate(139.70,458.51)" font-size="6.5" text-anchor="end" stroke="#000" stroke-width="0.18">15</text>
<line x1="141.90" y1="439.00" x2="145.20" y2="439.00" stroke="#111" stroke-width="1"/>
<text transform="translate(139.70,441.34)" font-size="6.5" text-anchor="end" stroke="#000" stroke-width="0.18">20</text>
<line x1="152.20" y1="507.70" x2="152.20" y2="510.50" stroke="#111" stroke-width="0.9"/>
<line x1="170.60" y1="507.70" x2="170.60" y2="510.50" stroke="#111" stroke-width="0.9"/>
<line x1="189.00" y1="507.70" x2="189.00" y2="510.50" stroke="#111" stroke-width="0.9"/>
<line x1="207.50" y1="507.70" x2="207.50" y2="510.50" stroke="#111" stroke-width="0.9"/>
<text transform="translate(156.10,516.40) rotate(-45)" font-size="6.5" text-anchor="end" stroke="#000" stroke-width="0.18">Total</text>
<text transform="translate(174.50,516.40) rotate(-45)" font-size="6.5" text-anchor="end" stroke="#000" stroke-width="0.18">Myeloid</text>
<text transform="translate(192.90,516.40) rotate(-45)" font-size="6.5" text-anchor="end" stroke="#000" stroke-width="0.18">B lymphoid</text>
<text transform="translate(211.40,516.40) rotate(-45)" font-size="6.5" text-anchor="end" stroke="#000" stroke-width="0.18">Erythroid</text>
<text transform="translate(231.60,424.30)" font-size="11" font-weight="bold" stroke="#000" stroke-width="0.18">O</text>
<defs><linearGradient id="gO" x1="0" y1="0" x2="0" y2="1"><stop offset="0" stop-color="#a2a2a2"/><stop offset="1" stop-color="#747474"/></linearGradient></defs>
<rect x="232.30" y="452.20" width="69.30" height="26.20" fill="url(#gO)" stroke="#333" stroke-width="0.9"/>
<rect x="235.50" y="463.20" width="9.60" height="3.40" rx="0.9" fill="#050505"/>
<rect x="249.00" y="459.20" width="9.40" height="3.40" rx="0.9" fill="#050505"/>
<rect x="262.00" y="471.40" width="9.90" height="3.00" rx="0.9" fill="#3a3a3a"/>
<rect x="275.50" y="461.90" width="9.70" height="3.40" rx="0.9" fill="#050505"/>
<rect x="288.80" y="457.90" width="9.40" height="3.20" rx="0.9" fill="#050505"/>
<text transform="translate(240.40,450.60) rotate(-32)" font-size="5.2" fill="#222" stroke="#222" stroke-width="0.2">Control</text>
<text transform="translate(254.10,450.60) rotate(-32)" font-size="5" font-style="italic" fill="#222" stroke="#222" stroke-width="0.2">Hif-1α<tspan font-size="3.4" dy="-1.9" dx="0.5">fl/fl</tspan></text>
<text transform="translate(266.90,450.60) rotate(-32)" font-size="5" font-style="italic" fill="#222" stroke="#222" stroke-width="0.2">Hif-1α<tspan font-size="3.4" dy="-1.9" dx="0.5">−/−</tspan></text>
<text transform="translate(279.50,450.60) rotate(-32)" font-size="5" font-style="italic" fill="#222" stroke="#222" stroke-width="0.2">Hif-1α<tspan font-size="3.4" dy="-1.9" dx="0.5">fl/fl</tspan></text>
<text transform="translate(292.60,450.60) rotate(-32)" font-size="5" font-style="italic" fill="#222" stroke="#222" stroke-width="0.2">Hif-1α<tspan font-size="3.4" dy="-1.9" dx="0.5">fl/Δ</tspan></text>
<path d="M301.6 460.3 L304.4 460.3 L308.2 457.4" fill="none" stroke="#333" stroke-width="0.7"/>
<line x1="301.60" y1="464.50" x2="307.00" y2="464.50" stroke="#333" stroke-width="0.7"/>
<line x1="301.60" y1="473.20" x2="306.10" y2="473.20" stroke="#333" stroke-width="0.7"/>
<text transform="translate(307.70,458.60)" font-size="6.6" stroke="#000" stroke-width="0.18">Δ</text>
<text transform="translate(307.90,466.80)" font-size="6.4" stroke="#000" stroke-width="0.18">fl</text>
<text transform="translate(307.60,475.90) scale(1.0701,1)" font-size="6.2" stroke="#000" stroke-width="0.18">WT</text>
<line x1="262.20" y1="480.60" x2="299.40" y2="480.60" stroke="#111" stroke-width="1"/>
<text transform="translate(267.40,487.20) scale(0.9765,1)" font-size="4.8" stroke="#000" stroke-width="0.2">PCR controls</text>
<text transform="translate(333.60,423.80)" font-size="11" font-weight="bold" stroke="#000" stroke-width="0.18">P</text>
<text transform="translate(369.20,441.00) scale(0.9191,1)" font-size="6.7" text-anchor="middle" stroke="#000" stroke-width="0.18">3 X 5-FU</text>
<text transform="translate(370.40,449.00) scale(0.9978,1)" font-size="6.5" text-anchor="middle" stroke="#000" stroke-width="0.18">(one dose every 10 days)</text>
<line x1="370.00" y1="451.30" x2="370.00" y2="461.34" stroke="#000" stroke-width="1.25"/>
<path d="M370.00 465.30 L366.50 458.70 L370.00 460.55 L373.50 458.70 Z" fill="#000"/>
<g transform="translate(356.80,466.20) scale(1)" fill="none" stroke="#000" stroke-width="1.4" stroke-linecap="round" stroke-linejoin="round">
<path d="M6.4 8.4 C6.3 5.5 7.2 3.3 8.6 2.1 C10 0.9 11.3 0.6 12.6 0.6 C14.5 0.6 16.8 1 18.5 2.2"/>
<path d="M23.2 4.6 C25.5 6 27.8 7.8 29.4 9.7 C29.6 10.8 29.2 11.6 28.4 12 C27.7 12.4 26.8 12.5 26 12.5 L10.6 12.5 C8.8 12.5 7.9 11.8 7.3 10.8 C6.8 10 6.5 9.2 6.4 8.4"/>
<path d="M6.4 7.3 C5.3 6.4 4 6 2.9 6.2 C1.3 6.5 0.3 7.5 0.4 8.8 C0.5 10 1.3 10.9 2.4 11.6 C3.5 12.3 4.9 12.7 6.2 13.1 C7.8 13.6 9.3 14.1 10.6 14.7"/>
<circle cx="20.6" cy="3.6" r="2.65" fill="#fff"/>
<circle cx="22.0" cy="7.5" r="1.5" fill="#000" stroke="none"/>
</g>
<text transform="translate(395.60,471.40) scale(0.9881,1)" font-size="6.3" stroke="#000" stroke-width="0.18">10 days</text>
<line x1="392.50" y1="475.50" x2="425.80" y2="475.50" stroke="#000" stroke-width="1.25"/>
<path d="M430.00 475.50 L423.00 471.90 L424.96 475.50 L423.00 479.10 Z" fill="#000"/>
<text transform="translate(431.80,474.50)" font-size="6.5" stroke="#000" stroke-width="0.18">FACS</text>
<text transform="translate(431.80,482.60)" font-size="6.5" stroke="#000" stroke-width="0.18">analyses</text>
<rect x="357.00" y="487.50" width="6.60" height="6.20" fill="#A90C30"/>
<rect x="357.00" y="497.00" width="6.60" height="6.20" fill="#6F7C95"/>
<text transform="translate(367.50,492.70)" font-size="5.3" stroke="#000" stroke-width="0.2">Control</text>
<text transform="translate(367.50,502.30) scale(1.1282,1)" font-size="4.8" font-style="italic" stroke="#000" stroke-width="0.1">Hif-1α<tspan font-size="3.2" dy="-1.6"> fl/fl</tspan><tspan dy="1.6">;Vav-iCre</tspan></text>
<text transform="translate(26.60,563.00)" font-size="11" font-weight="bold" stroke="#000" stroke-width="0.18">Q</text>
<line x1="54.50" y1="555.80" x2="54.50" y2="565.80" stroke="#000" stroke-width="1.2"/>
<path d="M54.50 570.60 L51.10 562.60 L54.50 564.84 L57.90 562.60 Z" fill="#000"/>
<line x1="85.00" y1="555.80" x2="85.00" y2="565.80" stroke="#000" stroke-width="1.2"/>
<path d="M85.00 570.60 L81.60 562.60 L85.00 564.84 L88.40 562.60 Z" fill="#000"/>
<line x1="115.00" y1="555.80" x2="115.00" y2="565.80" stroke="#000" stroke-width="1.2"/>
<path d="M115.00 570.60 L111.60 562.60 L115.00 564.84 L118.40 562.60 Z" fill="#000"/>
<text transform="translate(32.40,609.40) rotate(-90) scale(0.8415,1)" font-size="9.1" text-anchor="middle" stroke="#000" stroke-width="0.08">Surviving animals (%)</text>
<path d="M126.80 573.00 L126.80 582.57 L135.87 582.57 L135.87 592.85 L175.50 592.85" fill="none" stroke="#668899" stroke-width="1.4" stroke-dasharray="2.6 1.0"/>
<path d="M124.08 573.00 L124.08 582.57 L132.85 582.57 L132.85 591.58 L141.62 591.58 L141.62 599.94 L175.50 599.94" fill="none" stroke="#8F2444" stroke-width="1.4" stroke-dasharray="2.6 1.0"/>
<circle cx="175.50" cy="592.85" r="1.2" fill="#668899"/>
<circle cx="175.50" cy="599.94" r="1.2" fill="#7a1030"/>
<line x1="54.50" y1="573.50" x2="175.50" y2="573.40" stroke="#87586B" stroke-width="2.5"/>
<circle cx="175.50" cy="573.00" r="1.3" fill="#7b3b50"/>
<line x1="54.50" y1="572.50" x2="54.50" y2="644.40" stroke="#111" stroke-width="1.1"/>
<line x1="51.70" y1="643.90" x2="176.40" y2="643.90" stroke="#111" stroke-width="1.1"/>
<line x1="51.20" y1="643.90" x2="54.50" y2="643.90" stroke="#111" stroke-width="1"/>
<text transform="translate(49.00,646.20)" font-size="6.5" text-anchor="end" stroke="#000" stroke-width="0.18">0</text>
<line x1="51.20" y1="608.45" x2="54.50" y2="608.45" stroke="#111" stroke-width="1"/>
<text transform="translate(49.00,610.75)" font-size="6.5" text-anchor="end" stroke="#000" stroke-width="0.18">50</text>
<line x1="51.20" y1="573.00" x2="54.50" y2="573.00" stroke="#111" stroke-width="1"/>
<text transform="translate(49.00,575.30)" font-size="6.5" text-anchor="end" stroke="#000" stroke-width="0.18">100</text>
<line x1="54.50" y1="643.90" x2="54.50" y2="646.70" stroke="#111" stroke-width="0.9"/>
<text transform="translate(54.50,656.20)" font-size="6.5" text-anchor="middle" stroke="#000" stroke-width="0.18">0</text>
<line x1="84.75" y1="643.90" x2="84.75" y2="646.70" stroke="#111" stroke-width="0.9"/>
<text transform="translate(84.75,656.20)" font-size="6.5" text-anchor="middle" stroke="#000" stroke-width="0.18">10</text>
<line x1="115.00" y1="643.90" x2="115.00" y2="646.70" stroke="#111" stroke-width="0.9"/>
<text transform="translate(115.00,656.20)" font-size="6.5" text-anchor="middle" stroke="#000" stroke-width="0.18">20</text>
<line x1="145.25" y1="643.90" x2="145.25" y2="646.70" stroke="#111" stroke-width="0.9"/>
<text transform="translate(145.25,656.20)" font-size="6.5" text-anchor="middle" stroke="#000" stroke-width="0.18">30</text>
<line x1="175.50" y1="643.90" x2="175.50" y2="646.70" stroke="#111" stroke-width="0.9"/>
<text transform="translate(175.50,656.20)" font-size="6.5" text-anchor="middle" stroke="#000" stroke-width="0.18">40</text>
<text transform="translate(116.00,668.20) scale(0.7546,1)" font-size="9.2" text-anchor="middle" stroke="#000" stroke-width="0.08">Days</text>
<line x1="58.00" y1="611.80" x2="70.50" y2="611.80" stroke="#9E1B3C" stroke-width="1"/>
<line x1="58.00" y1="620.40" x2="70.50" y2="620.40" stroke="#4f7f88" stroke-width="0.9"/>
<line x1="58.00" y1="627.80" x2="70.50" y2="627.80" stroke="#9E1B3C" stroke-width="1.1" stroke-dasharray="2 0.9"/>
<line x1="58.00" y1="636.80" x2="70.50" y2="636.80" stroke="#7f8790" stroke-width="0.9" stroke-dasharray="2 0.9"/>
<text transform="translate(74.50,613.60)" font-size="5.3" stroke="#000" stroke-width="0.2">Control</text>
<text transform="translate(74.50,622.00) scale(1.1414,1)" font-size="4.8" font-style="italic" stroke="#000" stroke-width="0.1">Hif-1α<tspan font-size="3.2" dy="-1.6"> fl/fl</tspan><tspan dy="1.6">;Vav-iCre</tspan></text>
<text transform="translate(74.50,629.60)" font-size="5.3" stroke="#000" stroke-width="0.2">Control</text>
<text transform="translate(74.50,638.40) scale(1.1414,1)" font-size="4.8" font-style="italic" stroke="#000" stroke-width="0.1">Hif-1α<tspan font-size="3.2" dy="-1.6"> fl/fl</tspan><tspan dy="1.6">;Vav-iCre</tspan></text>
<line x1="127.50" y1="610.00" x2="127.50" y2="622.20" stroke="#000" stroke-width="0.9"/>
<line x1="127.50" y1="626.30" x2="127.50" y2="638.80" stroke="#000" stroke-width="0.9"/>
<text transform="translate(129.80,618.00)" font-size="5.2" stroke="#000" stroke-width="0.2">-5-FU</text>
<text transform="translate(129.80,633.60)" font-size="5.2" stroke="#000" stroke-width="0.2">+5-FU</text>
<text transform="translate(194.80,563.00)" font-size="11" font-weight="bold" stroke="#000" stroke-width="0.18">R</text>
<text transform="translate(202.20,608.50) rotate(-90) scale(0.8568,1)" font-size="9" text-anchor="middle" stroke="#000" stroke-width="0.08">Total BM</text>
<text transform="translate(212.50,608.30) rotate(-90) scale(0.8772,1)" font-size="9" text-anchor="middle" stroke="#000" stroke-width="0.08">cellularity (×10<tspan font-size="5.6" dy="-3">6</tspan><tspan dy="3">)</tspan></text>
<line x1="238.15" y1="585.82" x2="238.15" y2="581.79" stroke="#A00D2F" stroke-width="1.2"/>
<line x1="236.15" y1="581.79" x2="240.15" y2="581.79" stroke="#A00D2F" stroke-width="1.25"/>
<rect x="235.00" y="585.82" width="6.30" height="57.98" fill="#A90C30"/>
<line x1="241.05" y1="585.82" x2="241.05" y2="643.80" stroke="#8A0A28" stroke-width="0.5"/>
<line x1="246.35" y1="583.28" x2="246.35" y2="579.30" stroke="#68758E" stroke-width="1.2"/>
<line x1="244.35" y1="579.30" x2="248.35" y2="579.30" stroke="#68758E" stroke-width="1.25"/>
<rect x="243.20" y="583.28" width="6.30" height="60.52" fill="#6F7C95"/>
<line x1="249.25" y1="583.28" x2="249.25" y2="643.80" stroke="#5A6480" stroke-width="0.5"/>
<line x1="254.65" y1="585.82" x2="254.65" y2="582.30" stroke="#A00D2F" stroke-width="1.2"/>
<line x1="252.65" y1="582.30" x2="256.65" y2="582.30" stroke="#A00D2F" stroke-width="1.25"/>
<rect x="251.50" y="585.82" width="6.30" height="57.98" fill="#A90C30"/>
<line x1="257.55" y1="585.82" x2="257.55" y2="643.80" stroke="#8A0A28" stroke-width="0.5"/>
<line x1="262.85" y1="586.79" x2="262.85" y2="579.99" stroke="#68758E" stroke-width="1.2"/>
<line x1="260.85" y1="579.99" x2="264.85" y2="579.99" stroke="#68758E" stroke-width="1.25"/>
<rect x="259.70" y="586.79" width="6.30" height="57.01" fill="#6F7C95"/>
<line x1="265.75" y1="586.79" x2="265.75" y2="643.80" stroke="#5A6480" stroke-width="0.5"/>
<line x1="234.20" y1="571.30" x2="234.20" y2="644.35" stroke="#111" stroke-width="1.1"/>
<line x1="230.80" y1="643.80" x2="268.00" y2="643.80" stroke="#111" stroke-width="1.1"/>
<line x1="230.90" y1="643.80" x2="234.20" y2="643.80" stroke="#111" stroke-width="1"/>
<text transform="translate(227.90,646.14)" font-size="6.5" text-anchor="end" stroke="#000" stroke-width="0.18">0</text>
<line x1="230.90" y1="620.70" x2="234.20" y2="620.70" stroke="#111" stroke-width="1"/>
<text transform="translate(227.90,623.04)" font-size="6.5" text-anchor="end" stroke="#000" stroke-width="0.18">50</text>
<line x1="230.90" y1="597.60" x2="234.20" y2="597.60" stroke="#111" stroke-width="1"/>
<text transform="translate(227.90,599.94)" font-size="6.5" text-anchor="end" stroke="#000" stroke-width="0.18">100</text>
<line x1="230.90" y1="574.50" x2="234.20" y2="574.50" stroke="#111" stroke-width="1"/>
<text transform="translate(227.90,576.84)" font-size="6.5" text-anchor="end" stroke="#000" stroke-width="0.18">150</text>
<line x1="250.50" y1="643.80" x2="250.50" y2="646.40" stroke="#111" stroke-width="0.9"/>
<text transform="translate(245.30,649.80) rotate(-45)" font-size="6.2" text-anchor="end" stroke="#000" stroke-width="0.18">-5-FU</text>
<text transform="translate(261.50,649.80) rotate(-45)" font-size="6.2" text-anchor="end" stroke="#000" stroke-width="0.18">+5-FU</text>
<text transform="translate(289.90,608.10) rotate(-90) scale(0.8571,1)" font-size="9" text-anchor="middle" stroke="#000" stroke-width="0.08">LSK cells (×10<tspan font-size="5.6" dy="-3">5</tspan><tspan dy="3">)</tspan></text>
<line x1="307.65" y1="595.84" x2="307.65" y2="594.82" stroke="#A00D2F" stroke-width="1.2"/>
<line x1="305.65" y1="594.82" x2="309.65" y2="594.82" stroke="#A00D2F" stroke-width="1.25"/>
<rect x="304.50" y="595.84" width="6.30" height="47.96" fill="#A90C30"/>
<line x1="310.55" y1="595.84" x2="310.55" y2="643.80" stroke="#8A0A28" stroke-width="0.5"/>
<line x1="315.85" y1="598.75" x2="315.85" y2="594.40" stroke="#68758E" stroke-width="1.2"/>
<line x1="313.85" y1="594.40" x2="317.85" y2="594.40" stroke="#68758E" stroke-width="1.25"/>
<rect x="312.70" y="598.75" width="6.30" height="45.04" fill="#6F7C95"/>
<line x1="318.75" y1="598.75" x2="318.75" y2="643.80" stroke="#5A6480" stroke-width="0.5"/>
<line x1="324.05" y1="586.97" x2="324.05" y2="578.46" stroke="#A00D2F" stroke-width="1.2"/>
<line x1="322.05" y1="578.46" x2="326.05" y2="578.46" stroke="#A00D2F" stroke-width="1.25"/>
<rect x="320.90" y="586.97" width="6.30" height="56.83" fill="#A90C30"/>
<line x1="326.95" y1="586.97" x2="326.95" y2="643.80" stroke="#8A0A28" stroke-width="0.5"/>
<line x1="332.25" y1="587.53" x2="332.25" y2="583.04" stroke="#68758E" stroke-width="1.2"/>
<line x1="330.25" y1="583.04" x2="334.25" y2="583.04" stroke="#68758E" stroke-width="1.25"/>
<rect x="329.10" y="587.53" width="6.30" height="56.27" fill="#6F7C95"/>
<line x1="335.15" y1="587.53" x2="335.15" y2="643.80" stroke="#5A6480" stroke-width="0.5"/>
<line x1="304.10" y1="571.30" x2="304.10" y2="644.35" stroke="#111" stroke-width="1.1"/>
<line x1="300.70" y1="643.80" x2="337.50" y2="643.80" stroke="#111" stroke-width="1.1"/>
<line x1="300.80" y1="643.80" x2="304.10" y2="643.80" stroke="#111" stroke-width="1"/>
<text transform="translate(297.20,646.14)" font-size="6.5" text-anchor="end" stroke="#000" stroke-width="0.18">0</text>
<line x1="300.80" y1="629.94" x2="304.10" y2="629.94" stroke="#111" stroke-width="1"/>
<text transform="translate(297.20,632.28)" font-size="6.5" text-anchor="end" stroke="#000" stroke-width="0.18">1</text>
<line x1="300.80" y1="616.08" x2="304.10" y2="616.08" stroke="#111" stroke-width="1"/>
<text transform="translate(297.20,618.42)" font-size="6.5" text-anchor="end" stroke="#000" stroke-width="0.18">2</text>
<line x1="300.80" y1="602.22" x2="304.10" y2="602.22" stroke="#111" stroke-width="1"/>
<text transform="translate(297.20,604.56)" font-size="6.5" text-anchor="end" stroke="#000" stroke-width="0.18">3</text>
<line x1="300.80" y1="588.36" x2="304.10" y2="588.36" stroke="#111" stroke-width="1"/>
<text transform="translate(297.20,590.70)" font-size="6.5" text-anchor="end" stroke="#000" stroke-width="0.18">4</text>
<line x1="300.80" y1="574.50" x2="304.10" y2="574.50" stroke="#111" stroke-width="1"/>
<text transform="translate(297.20,576.84)" font-size="6.5" text-anchor="end" stroke="#000" stroke-width="0.18">5</text>
<line x1="319.90" y1="643.80" x2="319.90" y2="646.40" stroke="#111" stroke-width="0.9"/>
<text transform="translate(314.70,649.80) rotate(-45)" font-size="6.2" text-anchor="end" stroke="#000" stroke-width="0.18">-5-FU</text>
<text transform="translate(330.90,649.80) rotate(-45)" font-size="6.2" text-anchor="end" stroke="#000" stroke-width="0.18">+5-FU</text>
<text transform="translate(359.40,607.40) rotate(-90) scale(0.8531,1)" font-size="9" text-anchor="middle" stroke="#000" stroke-width="0.08">HSCs (×10<tspan font-size="5.6" dy="-3">4</tspan><tspan dy="3">)</tspan></text>
<line x1="377.35" y1="585.82" x2="377.35" y2="583.78" stroke="#A00D2F" stroke-width="1.2"/>
<line x1="375.35" y1="583.78" x2="379.35" y2="583.78" stroke="#A00D2F" stroke-width="1.25"/>
<rect x="374.20" y="585.82" width="6.30" height="57.98" fill="#A90C30"/>
<line x1="380.25" y1="585.82" x2="380.25" y2="643.80" stroke="#8A0A28" stroke-width="0.5"/>
<line x1="385.55" y1="588.36" x2="385.55" y2="584.93" stroke="#68758E" stroke-width="1.2"/>
<line x1="383.55" y1="584.93" x2="387.55" y2="584.93" stroke="#68758E" stroke-width="1.25"/>
<rect x="382.40" y="588.36" width="6.30" height="55.44" fill="#6F7C95"/>
<line x1="388.45" y1="588.36" x2="388.45" y2="643.80" stroke="#5A6480" stroke-width="0.5"/>
<line x1="393.75" y1="587.90" x2="393.75" y2="582.39" stroke="#A00D2F" stroke-width="1.2"/>
<line x1="391.75" y1="582.39" x2="395.75" y2="582.39" stroke="#A00D2F" stroke-width="1.25"/>
<rect x="390.60" y="587.90" width="6.30" height="55.90" fill="#A90C30"/>
<line x1="396.65" y1="587.90" x2="396.65" y2="643.80" stroke="#8A0A28" stroke-width="0.5"/>
<line x1="401.95" y1="590.44" x2="401.95" y2="584.93" stroke="#68758E" stroke-width="1.2"/>
<line x1="399.95" y1="584.93" x2="403.95" y2="584.93" stroke="#68758E" stroke-width="1.25"/>
<rect x="398.80" y="590.44" width="6.30" height="53.36" fill="#6F7C95"/>
<line x1="404.85" y1="590.44" x2="404.85" y2="643.80" stroke="#5A6480" stroke-width="0.5"/>
<line x1="373.40" y1="571.30" x2="373.40" y2="644.35" stroke="#111" stroke-width="1.1"/>
<line x1="370.00" y1="643.80" x2="407.00" y2="643.80" stroke="#111" stroke-width="1.1"/>
<line x1="370.10" y1="643.80" x2="373.40" y2="643.80" stroke="#111" stroke-width="1"/>
<text transform="translate(367.20,646.14)" font-size="6.5" text-anchor="end" stroke="#000" stroke-width="0.18">0</text>
<line x1="370.10" y1="620.70" x2="373.40" y2="620.70" stroke="#111" stroke-width="1"/>
<text transform="translate(367.20,623.04)" font-size="6.5" text-anchor="end" stroke="#000" stroke-width="0.18">1</text>
<line x1="370.10" y1="597.60" x2="373.40" y2="597.60" stroke="#111" stroke-width="1"/>
<text transform="translate(367.20,599.94)" font-size="6.5" text-anchor="end" stroke="#000" stroke-width="0.18">2</text>
<line x1="370.10" y1="574.50" x2="373.40" y2="574.50" stroke="#111" stroke-width="1"/>
<text transform="translate(367.20,576.84)" font-size="6.5" text-anchor="end" stroke="#000" stroke-width="0.18">3</text>
<line x1="389.60" y1="643.80" x2="389.60" y2="646.40" stroke="#111" stroke-width="0.9"/>
<text transform="translate(384.30,649.80) rotate(-45)" font-size="6.2" text-anchor="end" stroke="#000" stroke-width="0.18">-5-FU</text>
<text transform="translate(400.50,649.80) rotate(-45)" font-size="6.2" text-anchor="end" stroke="#000" stroke-width="0.18">+5-FU</text>
<text transform="translate(428.60,607.30) rotate(-90) scale(0.8578,1)" font-size="9" text-anchor="middle" stroke="#000" stroke-width="0.08">LK cells (×10<tspan font-size="5.6" dy="-3">5</tspan><tspan dy="3">)</tspan></text>
<line x1="446.95" y1="598.80" x2="446.95" y2="596.78" stroke="#A00D2F" stroke-width="1.2"/>
<line x1="444.95" y1="596.78" x2="448.95" y2="596.78" stroke="#A00D2F" stroke-width="1.25"/>
<rect x="443.80" y="598.80" width="6.30" height="45.00" fill="#A90C30"/>
<line x1="449.85" y1="598.80" x2="449.85" y2="643.80" stroke="#8A0A28" stroke-width="0.5"/>
<line x1="455.15" y1="593.22" x2="455.15" y2="589.97" stroke="#68758E" stroke-width="1.2"/>
<line x1="453.15" y1="589.97" x2="457.15" y2="589.97" stroke="#68758E" stroke-width="1.25"/>
<rect x="452.00" y="593.22" width="6.30" height="50.58" fill="#6F7C95"/>
<line x1="458.05" y1="593.22" x2="458.05" y2="643.80" stroke="#5A6480" stroke-width="0.5"/>
<line x1="463.25" y1="588.25" x2="463.25" y2="578.90" stroke="#A00D2F" stroke-width="1.2"/>
<line x1="461.25" y1="578.90" x2="465.25" y2="578.90" stroke="#A00D2F" stroke-width="1.25"/>
<rect x="460.10" y="588.25" width="6.30" height="55.55" fill="#A90C30"/>
<line x1="466.15" y1="588.25" x2="466.15" y2="643.80" stroke="#8A0A28" stroke-width="0.5"/>
<line x1="471.45" y1="598.80" x2="471.45" y2="592.50" stroke="#68758E" stroke-width="1.2"/>
<line x1="469.45" y1="592.50" x2="473.45" y2="592.50" stroke="#68758E" stroke-width="1.25"/>
<rect x="468.30" y="598.80" width="6.30" height="45.00" fill="#6F7C95"/>
<line x1="474.35" y1="598.80" x2="474.35" y2="643.80" stroke="#5A6480" stroke-width="0.5"/>
<line x1="443.00" y1="570.80" x2="443.00" y2="644.35" stroke="#111" stroke-width="1.1"/>
<line x1="439.60" y1="643.80" x2="477.00" y2="643.80" stroke="#111" stroke-width="1.1"/>
<line x1="439.70" y1="643.80" x2="443.00" y2="643.80" stroke="#111" stroke-width="1"/>
<text transform="translate(436.50,646.14)" font-size="6.5" text-anchor="end" stroke="#000" stroke-width="0.18">0</text>
<line x1="439.70" y1="626.36" x2="443.00" y2="626.36" stroke="#111" stroke-width="1"/>
<text transform="translate(436.50,628.70)" font-size="6.5" text-anchor="end" stroke="#000" stroke-width="0.18">2</text>
<line x1="439.70" y1="608.92" x2="443.00" y2="608.92" stroke="#111" stroke-width="1"/>
<text transform="translate(436.50,611.26)" font-size="6.5" text-anchor="end" stroke="#000" stroke-width="0.18">4</text>
<line x1="439.70" y1="591.48" x2="443.00" y2="591.48" stroke="#111" stroke-width="1"/>
<text transform="translate(436.50,593.82)" font-size="6.5" text-anchor="end" stroke="#000" stroke-width="0.18">6</text>
<line x1="439.70" y1="574.04" x2="443.00" y2="574.04" stroke="#111" stroke-width="1"/>
<text transform="translate(436.50,576.38)" font-size="6.5" text-anchor="end" stroke="#000" stroke-width="0.18">8</text>
<line x1="458.40" y1="643.80" x2="458.40" y2="646.40" stroke="#111" stroke-width="0.9"/>
<text transform="translate(453.70,649.80) rotate(-45)" font-size="6.2" text-anchor="end" stroke="#000" stroke-width="0.18">-5-FU</text>
<text transform="translate(469.90,649.80) rotate(-45)" font-size="6.2" text-anchor="end" stroke="#000" stroke-width="0.18">+5-FU</text>
<rect x="0" y="0" width="520" height="1.05" fill="#111"/>
<rect x="0" y="0" width="1.15" height="677" fill="#111"/>
<rect x="518.8" y="0" width="1.2" height="677" fill="#111"/>
<rect x="0" y="675.7" width="520" height="1.3" fill="#111"/>
</g>
</svg>
</body></html>
